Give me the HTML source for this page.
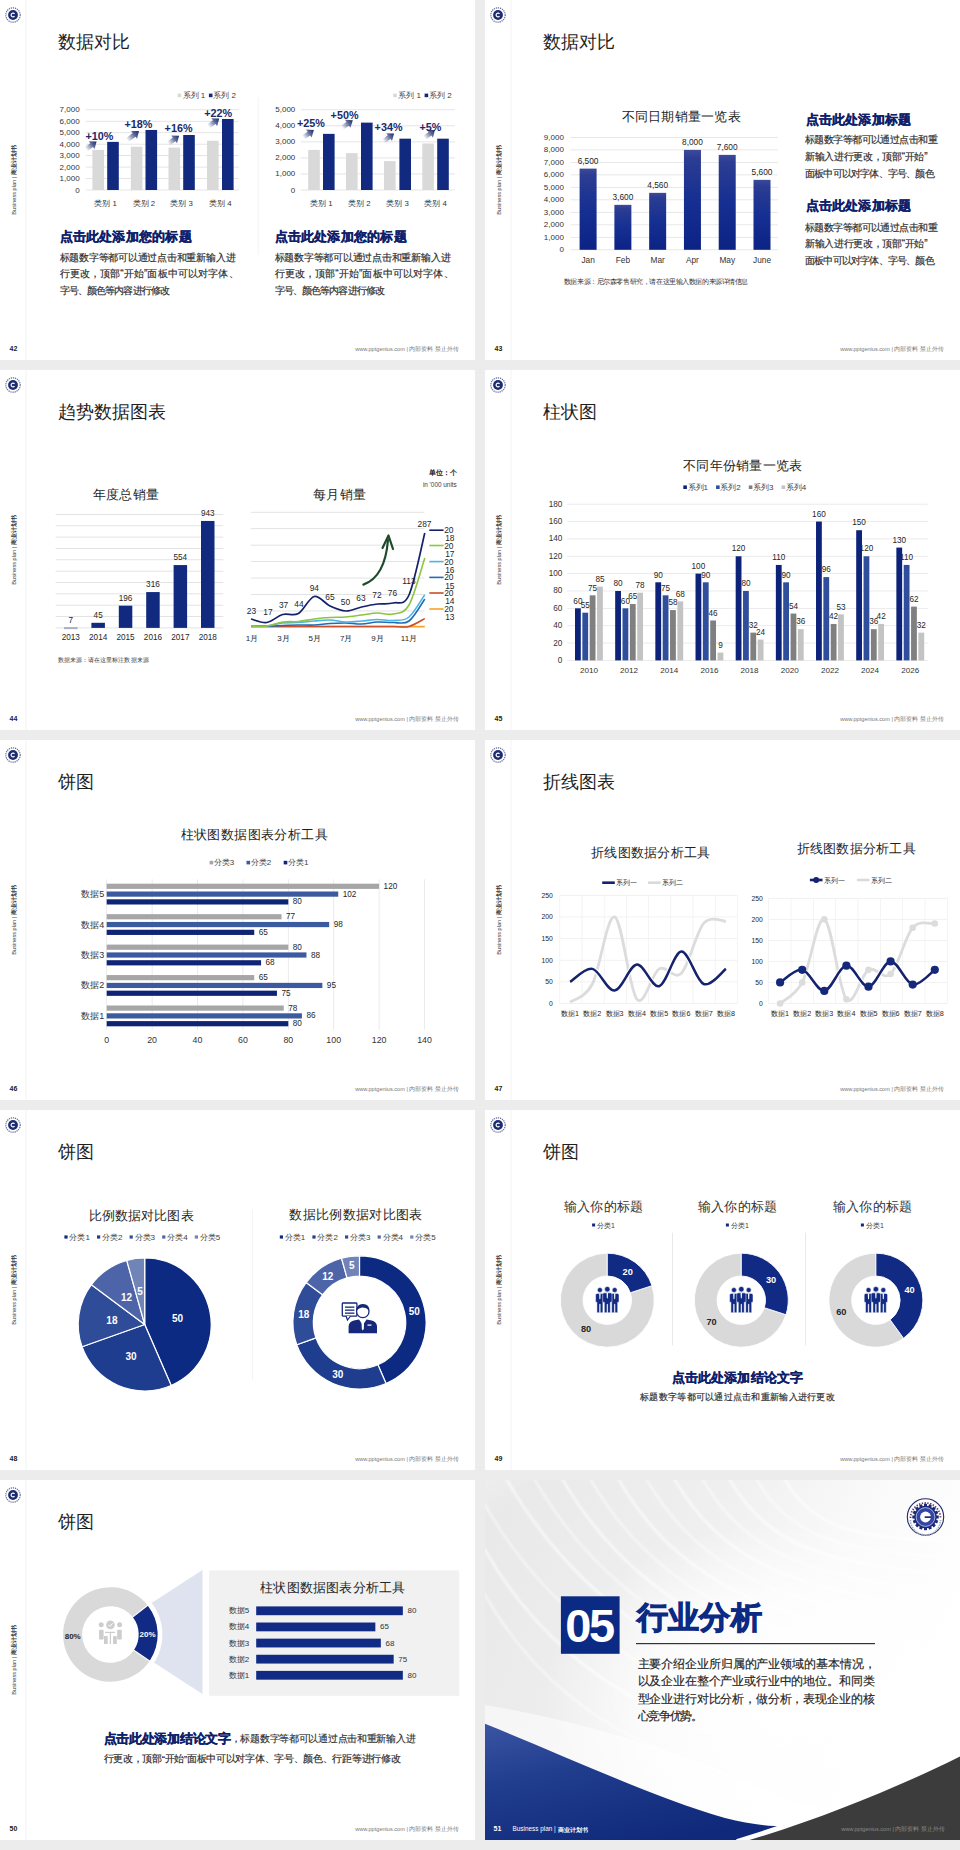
<!DOCTYPE html>
<html><head><meta charset="utf-8"><style>
html,body{margin:0;padding:0;}
body{width:960px;height:1850px;background:#ececec;position:relative;overflow:hidden;font-family:'Liberation Sans', sans-serif;}
.sl{position:absolute;width:475px;height:360px;overflow:hidden;}
svg{display:block;font-family:'Liberation Sans', sans-serif;}
</style></head><body>
<div class="sl" style="left:0px;top:0px;background:#fff"><svg width="475" height="360" viewBox="0 0 475 360"><rect x="25.5" y="0" width="1" height="360" fill="#f3f3f3"/><circle cx="13" cy="15" r="7.2" fill="#fff" stroke="#6a7098" stroke-width="1.2" stroke-dasharray="1.3 0.8"/><circle cx="13" cy="15" r="4.9" fill="#1c2c72"/><path d="M14.5,13.8 A1.9,1.9 0 1 0 14.5,16.2" fill="none" stroke="#fff" stroke-width="1.2"/><g transform="translate(13.5,180) rotate(-90)"><text x="0" y="0" font-size="5.6" fill="#333" text-anchor="middle" dominant-baseline="central">Business plan | <tspan font-weight="bold">商业计划书</tspan></text></g><text x="13.50" y="348.50" font-size="7" fill="#222" text-anchor="middle" font-weight="bold" dominant-baseline="central" >42</text><text x="459.00" y="349.00" font-size="5.6" fill="#777" text-anchor="end" font-weight="normal" dominant-baseline="central" >www.pptgenius.com | 内部资料 禁止外传</text><text x="57.50" y="41.50" font-size="17.6" fill="#1f1f1f" text-anchor="start" font-weight="normal" dominant-baseline="central" >数据对比</text><defs><linearGradient id="ag1" x1="0" y1="0" x2="1" y2="0"><stop offset="0" stop-color="#1a2a6c" stop-opacity="0"/><stop offset="0.6" stop-color="#1a2a6c" stop-opacity="0.7"/><stop offset="1" stop-color="#1a2a6c" stop-opacity="1"/></linearGradient></defs><rect x="85.8" y="189.60" width="153.2" height="0.8" fill="#dedede"/><text x="79.60" y="190.00" font-size="8" fill="#333333" text-anchor="end" font-weight="normal" dominant-baseline="central" >0</text><rect x="85.8" y="178.14" width="153.2" height="0.8" fill="#dedede"/><text x="79.60" y="178.54" font-size="8" fill="#333333" text-anchor="end" font-weight="normal" dominant-baseline="central" >1,000</text><rect x="85.8" y="166.69" width="153.2" height="0.8" fill="#dedede"/><text x="79.60" y="167.09" font-size="8" fill="#333333" text-anchor="end" font-weight="normal" dominant-baseline="central" >2,000</text><rect x="85.8" y="155.23" width="153.2" height="0.8" fill="#dedede"/><text x="79.60" y="155.63" font-size="8" fill="#333333" text-anchor="end" font-weight="normal" dominant-baseline="central" >3,000</text><rect x="85.8" y="143.77" width="153.2" height="0.8" fill="#dedede"/><text x="79.60" y="144.17" font-size="8" fill="#333333" text-anchor="end" font-weight="normal" dominant-baseline="central" >4,000</text><rect x="85.8" y="132.31" width="153.2" height="0.8" fill="#dedede"/><text x="79.60" y="132.71" font-size="8" fill="#333333" text-anchor="end" font-weight="normal" dominant-baseline="central" >5,000</text><rect x="85.8" y="120.86" width="153.2" height="0.8" fill="#dedede"/><text x="79.60" y="121.26" font-size="8" fill="#333333" text-anchor="end" font-weight="normal" dominant-baseline="central" >6,000</text><rect x="85.8" y="109.40" width="153.2" height="0.8" fill="#dedede"/><text x="79.60" y="109.80" font-size="8" fill="#333333" text-anchor="end" font-weight="normal" dominant-baseline="central" >7,000</text><rect x="92.40" y="149.90" width="11.6" height="40.10" fill="#d9d9d9"/><rect x="107.20" y="141.88" width="11.6" height="48.12" fill="#112a80"/><text x="105.60" y="203.00" font-size="7.8" fill="#333333" text-anchor="middle" font-weight="normal" dominant-baseline="central" >类别 1</text><rect x="130.80" y="146.69" width="11.6" height="43.31" fill="#d9d9d9"/><rect x="145.50" y="129.96" width="11.6" height="60.04" fill="#112a80"/><text x="143.95" y="203.00" font-size="7.8" fill="#333333" text-anchor="middle" font-weight="normal" dominant-baseline="central" >类别 2</text><rect x="168.50" y="147.61" width="11.6" height="42.39" fill="#d9d9d9"/><rect x="183.20" y="135.01" width="11.6" height="54.99" fill="#112a80"/><text x="181.65" y="203.00" font-size="7.8" fill="#333333" text-anchor="middle" font-weight="normal" dominant-baseline="central" >类别 3</text><rect x="207.00" y="140.73" width="11.6" height="49.27" fill="#d9d9d9"/><rect x="222.00" y="118.97" width="11.6" height="71.03" fill="#112a80"/><text x="220.30" y="203.00" font-size="7.8" fill="#333333" text-anchor="middle" font-weight="normal" dominant-baseline="central" >类别 4</text><text x="85.50" y="135.50" font-size="10.8" fill="#1a2a6c" text-anchor="start" font-weight="bold" dominant-baseline="central" >+10%</text><text x="124.50" y="123.80" font-size="10.8" fill="#1a2a6c" text-anchor="start" font-weight="bold" dominant-baseline="central" >+18%</text><text x="164.60" y="128.40" font-size="10.8" fill="#1a2a6c" text-anchor="start" font-weight="bold" dominant-baseline="central" >+16%</text><text x="204.20" y="113.00" font-size="10.8" fill="#1a2a6c" text-anchor="start" font-weight="bold" dominant-baseline="central" >+22%</text><g transform="translate(85.90,149.30) rotate(-36.40)"><path d="M0,-2.3 L7.100406497347964,-2.3 L7.100406497347964,-4.9 L13.300406497347964,0 L7.100406497347964,4.9 L7.100406497347964,2.3 L0,2.3 Z" fill="url(#ag1)"/></g><g transform="translate(127.20,140.20) rotate(-37.69)"><path d="M0,-2.3 L8.701438774457873,-2.3 L8.701438774457873,-4.9 L14.901438774457873,0 L8.701438774457873,4.9 L8.701438774457873,2.3 L0,2.3 Z" fill="url(#ag1)"/></g><g transform="translate(168.40,143.60) rotate(-36.40)"><path d="M0,-2.3 L7.100406497347998,-2.3 L7.100406497347998,-4.9 L13.300406497347998,0 L7.100406497347998,4.9 L7.100406497347998,2.3 L0,2.3 Z" fill="url(#ag1)"/></g><g transform="translate(208.50,126.40) rotate(-36.40)"><path d="M0,-2.3 L7.100406497347966,-2.3 L7.100406497347966,-4.9 L13.300406497347966,0 L7.100406497347966,4.9 L7.100406497347966,2.3 L0,2.3 Z" fill="url(#ag1)"/></g><rect x="177.60" y="93.6" width="3.6" height="3.6" fill="#d9d9d9"/><text x="182.60" y="95.60" font-size="8" fill="#3d3d3d" text-anchor="start" font-weight="normal" dominant-baseline="central" >系列 1</text><rect x="208.90" y="93.6" width="3.6" height="3.6" fill="#112a80"/><text x="213.30" y="95.60" font-size="8" fill="#3d3d3d" text-anchor="start" font-weight="normal" dominant-baseline="central" >系列 2</text><rect x="300.8" y="189.60" width="154.0" height="0.8" fill="#dedede"/><text x="295.30" y="190.00" font-size="8" fill="#333333" text-anchor="end" font-weight="normal" dominant-baseline="central" >0</text><rect x="300.8" y="173.56" width="154.0" height="0.8" fill="#dedede"/><text x="295.30" y="173.96" font-size="8" fill="#333333" text-anchor="end" font-weight="normal" dominant-baseline="central" >1,000</text><rect x="300.8" y="157.52" width="154.0" height="0.8" fill="#dedede"/><text x="295.30" y="157.92" font-size="8" fill="#333333" text-anchor="end" font-weight="normal" dominant-baseline="central" >2,000</text><rect x="300.8" y="141.48" width="154.0" height="0.8" fill="#dedede"/><text x="295.30" y="141.88" font-size="8" fill="#333333" text-anchor="end" font-weight="normal" dominant-baseline="central" >3,000</text><rect x="300.8" y="125.44" width="154.0" height="0.8" fill="#dedede"/><text x="295.30" y="125.84" font-size="8" fill="#333333" text-anchor="end" font-weight="normal" dominant-baseline="central" >4,000</text><rect x="300.8" y="109.40" width="154.0" height="0.8" fill="#dedede"/><text x="295.30" y="109.80" font-size="8" fill="#333333" text-anchor="end" font-weight="normal" dominant-baseline="central" >5,000</text><rect x="308.20" y="149.90" width="11.6" height="40.10" fill="#d9d9d9"/><rect x="323.00" y="133.86" width="11.6" height="56.14" fill="#112a80"/><text x="321.40" y="203.00" font-size="7.8" fill="#333333" text-anchor="middle" font-weight="normal" dominant-baseline="central" >类别 1</text><rect x="346.00" y="153.11" width="11.6" height="36.89" fill="#d9d9d9"/><rect x="361.00" y="122.63" width="11.6" height="67.37" fill="#112a80"/><text x="359.30" y="203.00" font-size="7.8" fill="#333333" text-anchor="middle" font-weight="normal" dominant-baseline="central" >类别 2</text><rect x="384.00" y="161.13" width="11.6" height="28.87" fill="#d9d9d9"/><rect x="399.40" y="138.67" width="11.6" height="51.33" fill="#112a80"/><text x="397.50" y="203.00" font-size="7.8" fill="#333333" text-anchor="middle" font-weight="normal" dominant-baseline="central" >类别 3</text><rect x="422.30" y="143.48" width="11.6" height="46.52" fill="#d9d9d9"/><rect x="437.20" y="138.67" width="11.6" height="51.33" fill="#112a80"/><text x="435.55" y="203.00" font-size="7.8" fill="#333333" text-anchor="middle" font-weight="normal" dominant-baseline="central" >类别 4</text><text x="297.00" y="122.80" font-size="10.8" fill="#1a2a6c" text-anchor="start" font-weight="bold" dominant-baseline="central" >+25%</text><text x="330.60" y="115.00" font-size="10.8" fill="#1a2a6c" text-anchor="start" font-weight="bold" dominant-baseline="central" >+50%</text><text x="374.60" y="127.40" font-size="10.8" fill="#1a2a6c" text-anchor="start" font-weight="bold" dominant-baseline="central" >+34%</text><text x="419.50" y="126.50" font-size="10.8" fill="#1a2a6c" text-anchor="start" font-weight="bold" dominant-baseline="central" >+5%</text><g transform="translate(303.20,137.40) rotate(-34.48)"><path d="M0,-2.3 L6.810412149464349,-2.3 L6.810412149464349,-4.9 L13.010412149464349,0 L6.810412149464349,4.9 L6.810412149464349,2.3 L0,2.3 Z" fill="url(#ag1)"/></g><g transform="translate(342.10,127.60) rotate(-34.09)"><path d="M0,-2.3 L6.754078801814916,-2.3 L6.754078801814916,-4.9 L12.954078801814916,0 L6.754078801814916,4.9 L6.754078801814916,2.3 L0,2.3 Z" fill="url(#ag1)"/></g><g transform="translate(383.40,141.30) rotate(-36.40)"><path d="M0,-2.3 L7.100406497347998,-2.3 L7.100406497347998,-4.9 L13.300406497347998,0 L7.100406497347998,4.9 L7.100406497347998,2.3 L0,2.3 Z" fill="url(#ag1)"/></g><g transform="translate(424.60,137.90) rotate(-37.54)"><path d="M0,-2.3 L6.7808180021232785,-2.3 L6.7808180021232785,-4.9 L12.980818002123279,0 L6.7808180021232785,4.9 L6.7808180021232785,2.3 L0,2.3 Z" fill="url(#ag1)"/></g><rect x="393.20" y="93.6" width="3.6" height="3.6" fill="#d9d9d9"/><text x="398.20" y="95.60" font-size="8" fill="#3d3d3d" text-anchor="start" font-weight="normal" dominant-baseline="central" >系列 1</text><rect x="424.60" y="93.6" width="3.6" height="3.6" fill="#112a80"/><text x="429.00" y="95.60" font-size="8" fill="#3d3d3d" text-anchor="start" font-weight="normal" dominant-baseline="central" >系列 2</text><rect x="257.8" y="97" width="0.8" height="158" fill="#f0f0f0"/><text x="59.50" y="236.60" font-size="13" fill="#101f6a" text-anchor="start" font-weight="bold" dominant-baseline="central" stroke="#101f6a" stroke-width="0.3" textLength="132.00" lengthAdjust="spacing">点击此处添加您的标题</text><text x="59.50" y="257.60" font-size="10" fill="#2e2e2e" text-anchor="start" font-weight="normal" dominant-baseline="central" stroke="#2e2e2e" stroke-width="0.18" textLength="176.00" lengthAdjust="spacing">标题数字等都可以通过点击和重新输入进</text><text x="59.50" y="273.80" font-size="10" fill="#2e2e2e" text-anchor="start" font-weight="normal" dominant-baseline="central" stroke="#2e2e2e" stroke-width="0.18" textLength="179.00" lengthAdjust="spacing">行更改，顶部“开始”面板中可以对字体、</text><text x="59.50" y="290.00" font-size="10" fill="#2e2e2e" text-anchor="start" font-weight="normal" dominant-baseline="central" stroke="#2e2e2e" stroke-width="0.18" textLength="110.50" lengthAdjust="spacing">字号、颜色等内容进行修改</text><text x="274.50" y="236.60" font-size="13" fill="#101f6a" text-anchor="start" font-weight="bold" dominant-baseline="central" stroke="#101f6a" stroke-width="0.3" textLength="132.00" lengthAdjust="spacing">点击此处添加您的标题</text><text x="274.50" y="257.60" font-size="10" fill="#2e2e2e" text-anchor="start" font-weight="normal" dominant-baseline="central" stroke="#2e2e2e" stroke-width="0.18" textLength="176.00" lengthAdjust="spacing">标题数字等都可以通过点击和重新输入进</text><text x="274.50" y="273.80" font-size="10" fill="#2e2e2e" text-anchor="start" font-weight="normal" dominant-baseline="central" stroke="#2e2e2e" stroke-width="0.18" textLength="179.00" lengthAdjust="spacing">行更改，顶部“开始”面板中可以对字体、</text><text x="274.50" y="290.00" font-size="10" fill="#2e2e2e" text-anchor="start" font-weight="normal" dominant-baseline="central" stroke="#2e2e2e" stroke-width="0.18" textLength="110.50" lengthAdjust="spacing">字号、颜色等内容进行修改</text></svg></div><div class="sl" style="left:485px;top:0px;background:#fff"><svg width="475" height="360" viewBox="0 0 475 360"><rect x="25.5" y="0" width="1" height="360" fill="#f3f3f3"/><circle cx="13" cy="15" r="7.2" fill="#fff" stroke="#6a7098" stroke-width="1.2" stroke-dasharray="1.3 0.8"/><circle cx="13" cy="15" r="4.9" fill="#1c2c72"/><path d="M14.5,13.8 A1.9,1.9 0 1 0 14.5,16.2" fill="none" stroke="#fff" stroke-width="1.2"/><g transform="translate(13.5,180) rotate(-90)"><text x="0" y="0" font-size="5.6" fill="#333" text-anchor="middle" dominant-baseline="central">Business plan | <tspan font-weight="bold">商业计划书</tspan></text></g><text x="13.50" y="348.50" font-size="7" fill="#222" text-anchor="middle" font-weight="bold" dominant-baseline="central" >43</text><text x="459.00" y="349.00" font-size="5.6" fill="#777" text-anchor="end" font-weight="normal" dominant-baseline="central" >www.pptgenius.com | 内部资料 禁止外传</text><text x="57.50" y="41.50" font-size="17.6" fill="#1f1f1f" text-anchor="start" font-weight="normal" dominant-baseline="central" >数据对比</text><defs><linearGradient id="bg2" x1="0" y1="0" x2="0" y2="1"><stop offset="0" stop-color="#3d4a9a"/><stop offset="0.08" stop-color="#2c3d92"/><stop offset="0.5" stop-color="#162f92"/><stop offset="1" stop-color="#0c2384"/></linearGradient></defs><text x="196.00" y="116.30" font-size="13" fill="#1f1f1f" text-anchor="middle" font-weight="normal" dominant-baseline="central"  textLength="119.00" lengthAdjust="spacing">不同日期销量一览表</text><rect x="85.6" y="249.40" width="207.20000000000002" height="0.8" fill="#e2e2e2"/><text x="78.90" y="249.80" font-size="8" fill="#333333" text-anchor="end" font-weight="normal" dominant-baseline="central" >0</text><rect x="85.6" y="236.91" width="207.20000000000002" height="0.8" fill="#e2e2e2"/><text x="78.90" y="237.31" font-size="8" fill="#333333" text-anchor="end" font-weight="normal" dominant-baseline="central" >1,000</text><rect x="85.6" y="224.42" width="207.20000000000002" height="0.8" fill="#e2e2e2"/><text x="78.90" y="224.82" font-size="8" fill="#333333" text-anchor="end" font-weight="normal" dominant-baseline="central" >2,000</text><rect x="85.6" y="211.93" width="207.20000000000002" height="0.8" fill="#e2e2e2"/><text x="78.90" y="212.33" font-size="8" fill="#333333" text-anchor="end" font-weight="normal" dominant-baseline="central" >3,000</text><rect x="85.6" y="199.44" width="207.20000000000002" height="0.8" fill="#e2e2e2"/><text x="78.90" y="199.84" font-size="8" fill="#333333" text-anchor="end" font-weight="normal" dominant-baseline="central" >4,000</text><rect x="85.6" y="186.96" width="207.20000000000002" height="0.8" fill="#e2e2e2"/><text x="78.90" y="187.36" font-size="8" fill="#333333" text-anchor="end" font-weight="normal" dominant-baseline="central" >5,000</text><rect x="85.6" y="174.47" width="207.20000000000002" height="0.8" fill="#e2e2e2"/><text x="78.90" y="174.87" font-size="8" fill="#333333" text-anchor="end" font-weight="normal" dominant-baseline="central" >6,000</text><rect x="85.6" y="161.98" width="207.20000000000002" height="0.8" fill="#e2e2e2"/><text x="78.90" y="162.38" font-size="8" fill="#333333" text-anchor="end" font-weight="normal" dominant-baseline="central" >7,000</text><rect x="85.6" y="149.49" width="207.20000000000002" height="0.8" fill="#e2e2e2"/><text x="78.90" y="149.89" font-size="8" fill="#333333" text-anchor="end" font-weight="normal" dominant-baseline="central" >8,000</text><rect x="85.6" y="137.00" width="207.20000000000002" height="0.8" fill="#e2e2e2"/><text x="78.90" y="137.40" font-size="8" fill="#333333" text-anchor="end" font-weight="normal" dominant-baseline="central" >9,000</text><rect x="94.60" y="168.62" width="17" height="81.18" fill="url(#bg2)"/><text x="103.10" y="161.22" font-size="8.3" fill="#1e1e1e" text-anchor="middle" font-weight="normal" dominant-baseline="central" >6,500</text><text x="103.10" y="260.30" font-size="8.3" fill="#333333" text-anchor="middle" font-weight="normal" dominant-baseline="central" >Jan</text><rect x="129.38" y="204.84" width="17" height="44.96" fill="url(#bg2)"/><text x="137.88" y="197.44" font-size="8.3" fill="#1e1e1e" text-anchor="middle" font-weight="normal" dominant-baseline="central" >3,600</text><text x="137.88" y="260.30" font-size="8.3" fill="#333333" text-anchor="middle" font-weight="normal" dominant-baseline="central" >Feb</text><rect x="164.16" y="192.85" width="17" height="56.95" fill="url(#bg2)"/><text x="172.66" y="185.45" font-size="8.3" fill="#1e1e1e" text-anchor="middle" font-weight="normal" dominant-baseline="central" >4,560</text><text x="172.66" y="260.30" font-size="8.3" fill="#333333" text-anchor="middle" font-weight="normal" dominant-baseline="central" >Mar</text><rect x="198.94" y="149.89" width="17" height="99.91" fill="url(#bg2)"/><text x="207.44" y="142.49" font-size="8.3" fill="#1e1e1e" text-anchor="middle" font-weight="normal" dominant-baseline="central" >8,000</text><text x="207.44" y="260.30" font-size="8.3" fill="#333333" text-anchor="middle" font-weight="normal" dominant-baseline="central" >Apr</text><rect x="233.72" y="154.88" width="17" height="94.92" fill="url(#bg2)"/><text x="242.22" y="147.48" font-size="8.3" fill="#1e1e1e" text-anchor="middle" font-weight="normal" dominant-baseline="central" >7,600</text><text x="242.22" y="260.30" font-size="8.3" fill="#333333" text-anchor="middle" font-weight="normal" dominant-baseline="central" >May</text><rect x="268.50" y="179.86" width="17" height="69.94" fill="url(#bg2)"/><text x="277.00" y="172.46" font-size="8.3" fill="#1e1e1e" text-anchor="middle" font-weight="normal" dominant-baseline="central" >5,600</text><text x="277.00" y="260.30" font-size="8.3" fill="#333333" text-anchor="middle" font-weight="normal" dominant-baseline="central" >June</text><text x="78.90" y="281.00" font-size="7" fill="#333" text-anchor="start" font-weight="normal" dominant-baseline="central"  textLength="184.50" lengthAdjust="spacing">数据来源：尼尔森零售研究，请在这里输入数据的来源详情信息</text><text x="320.60" y="119.00" font-size="13" fill="#101f6a" text-anchor="start" font-weight="bold" dominant-baseline="central" stroke="#101f6a" stroke-width="0.3" textLength="105.50" lengthAdjust="spacing">点击此处添加标题</text><text x="320.00" y="139.50" font-size="10" fill="#2e2e2e" text-anchor="start" font-weight="normal" dominant-baseline="central" stroke="#2e2e2e" stroke-width="0.18" textLength="132.50" lengthAdjust="spacing">标题数字等都可以通过点击和重</text><text x="320.00" y="156.35" font-size="10" fill="#2e2e2e" text-anchor="start" font-weight="normal" dominant-baseline="central" stroke="#2e2e2e" stroke-width="0.18" textLength="122.50" lengthAdjust="spacing">新输入进行更改，顶部“开始”</text><text x="320.00" y="173.20" font-size="10" fill="#2e2e2e" text-anchor="start" font-weight="normal" dominant-baseline="central" stroke="#2e2e2e" stroke-width="0.18" textLength="129.50" lengthAdjust="spacing">面板中可以对字体、字号、颜色</text><text x="320.60" y="205.10" font-size="13" fill="#101f6a" text-anchor="start" font-weight="bold" dominant-baseline="central" stroke="#101f6a" stroke-width="0.3" textLength="105.50" lengthAdjust="spacing">点击此处添加标题</text><text x="320.00" y="227.10" font-size="10" fill="#2e2e2e" text-anchor="start" font-weight="normal" dominant-baseline="central" stroke="#2e2e2e" stroke-width="0.18" textLength="132.50" lengthAdjust="spacing">标题数字等都可以通过点击和重</text><text x="320.00" y="243.95" font-size="10" fill="#2e2e2e" text-anchor="start" font-weight="normal" dominant-baseline="central" stroke="#2e2e2e" stroke-width="0.18" textLength="122.50" lengthAdjust="spacing">新输入进行更改，顶部“开始”</text><text x="320.00" y="260.80" font-size="10" fill="#2e2e2e" text-anchor="start" font-weight="normal" dominant-baseline="central" stroke="#2e2e2e" stroke-width="0.18" textLength="129.50" lengthAdjust="spacing">面板中可以对字体、字号、颜色</text></svg></div><div class="sl" style="left:0px;top:370px;background:#fff"><svg width="475" height="360" viewBox="0 0 475 360"><rect x="25.5" y="0" width="1" height="360" fill="#f3f3f3"/><circle cx="13" cy="15" r="7.2" fill="#fff" stroke="#6a7098" stroke-width="1.2" stroke-dasharray="1.3 0.8"/><circle cx="13" cy="15" r="4.9" fill="#1c2c72"/><path d="M14.5,13.8 A1.9,1.9 0 1 0 14.5,16.2" fill="none" stroke="#fff" stroke-width="1.2"/><g transform="translate(13.5,180) rotate(-90)"><text x="0" y="0" font-size="5.6" fill="#333" text-anchor="middle" dominant-baseline="central">Business plan | <tspan font-weight="bold">商业计划书</tspan></text></g><text x="13.50" y="348.50" font-size="7" fill="#222" text-anchor="middle" font-weight="bold" dominant-baseline="central" >44</text><text x="459.00" y="349.00" font-size="5.6" fill="#777" text-anchor="end" font-weight="normal" dominant-baseline="central" >www.pptgenius.com | 内部资料 禁止外传</text><text x="57.50" y="41.50" font-size="17.6" fill="#1f1f1f" text-anchor="start" font-weight="normal" dominant-baseline="central" >趋势数据图表</text><text x="125.90" y="124.60" font-size="13" fill="#1f1f1f" text-anchor="middle" font-weight="normal" dominant-baseline="central"  textLength="66.00" lengthAdjust="spacing">年度总销量</text><rect x="55.6" y="257.50" width="167.7" height="0.8" fill="#dcdcdc"/><rect x="55.6" y="246.15" width="167.7" height="0.8" fill="#dcdcdc"/><rect x="55.6" y="234.80" width="167.7" height="0.8" fill="#dcdcdc"/><rect x="55.6" y="223.45" width="167.7" height="0.8" fill="#dcdcdc"/><rect x="55.6" y="212.10" width="167.7" height="0.8" fill="#dcdcdc"/><rect x="55.6" y="200.75" width="167.7" height="0.8" fill="#dcdcdc"/><rect x="55.6" y="189.40" width="167.7" height="0.8" fill="#dcdcdc"/><rect x="55.6" y="178.05" width="167.7" height="0.8" fill="#dcdcdc"/><rect x="55.6" y="166.70" width="167.7" height="0.8" fill="#dcdcdc"/><rect x="55.6" y="155.35" width="167.7" height="0.8" fill="#dcdcdc"/><rect x="55.6" y="144.00" width="167.7" height="0.8" fill="#dcdcdc"/><rect x="64.00" y="257.11" width="13.5" height="2.00" fill="#a7b0c8"/><text x="70.75" y="250.00" font-size="8.2" fill="#262626" text-anchor="middle" font-weight="normal" dominant-baseline="central" >7</text><text x="70.75" y="267.70" font-size="8.2" fill="#262626" text-anchor="middle" font-weight="normal" dominant-baseline="central" >2013</text><rect x="91.40" y="252.80" width="13.5" height="5.10" fill="#112a80"/><text x="98.15" y="245.30" font-size="8.2" fill="#262626" text-anchor="middle" font-weight="normal" dominant-baseline="central" >45</text><text x="98.15" y="267.70" font-size="8.2" fill="#262626" text-anchor="middle" font-weight="normal" dominant-baseline="central" >2014</text><rect x="118.80" y="235.67" width="13.5" height="22.23" fill="#112a80"/><text x="125.55" y="228.17" font-size="8.2" fill="#262626" text-anchor="middle" font-weight="normal" dominant-baseline="central" >196</text><text x="125.55" y="267.70" font-size="8.2" fill="#262626" text-anchor="middle" font-weight="normal" dominant-baseline="central" >2015</text><rect x="146.20" y="222.07" width="13.5" height="35.83" fill="#112a80"/><text x="152.95" y="214.57" font-size="8.2" fill="#262626" text-anchor="middle" font-weight="normal" dominant-baseline="central" >316</text><text x="152.95" y="267.70" font-size="8.2" fill="#262626" text-anchor="middle" font-weight="normal" dominant-baseline="central" >2016</text><rect x="173.60" y="195.08" width="13.5" height="62.82" fill="#112a80"/><text x="180.35" y="187.58" font-size="8.2" fill="#262626" text-anchor="middle" font-weight="normal" dominant-baseline="central" >554</text><text x="180.35" y="267.70" font-size="8.2" fill="#262626" text-anchor="middle" font-weight="normal" dominant-baseline="central" >2017</text><rect x="201.00" y="150.96" width="13.5" height="106.94" fill="#112a80"/><text x="207.75" y="143.46" font-size="8.2" fill="#262626" text-anchor="middle" font-weight="normal" dominant-baseline="central" >943</text><text x="207.75" y="267.70" font-size="8.2" fill="#262626" text-anchor="middle" font-weight="normal" dominant-baseline="central" >2018</text><text x="57.70" y="289.60" font-size="6" fill="#333" text-anchor="start" font-weight="normal" dominant-baseline="central"  textLength="91.00" lengthAdjust="spacing">数据来源：请在这里标注数据来源</text><text x="339.40" y="124.70" font-size="13" fill="#1f1f1f" text-anchor="middle" font-weight="normal" dominant-baseline="central"  textLength="53.00" lengthAdjust="spacing">每月销量</text><text x="456.80" y="102.00" font-size="6.8" fill="#262626" text-anchor="end" font-weight="bold" dominant-baseline="central" >单位：个</text><text x="456.80" y="114.70" font-size="6.4" fill="#3d3d3d" text-anchor="end" font-weight="normal" dominant-baseline="central" >in '000 units</text><rect x="250.8" y="257.00" width="173.7" height="0.8" fill="#dcdcdc"/><rect x="250.8" y="240.55" width="173.7" height="0.8" fill="#dcdcdc"/><rect x="250.8" y="224.10" width="173.7" height="0.8" fill="#dcdcdc"/><rect x="250.8" y="207.65" width="173.7" height="0.8" fill="#dcdcdc"/><rect x="250.8" y="191.20" width="173.7" height="0.8" fill="#dcdcdc"/><rect x="250.8" y="174.75" width="173.7" height="0.8" fill="#dcdcdc"/><rect x="250.8" y="158.30" width="173.7" height="0.8" fill="#dcdcdc"/><rect x="250.8" y="141.85" width="173.7" height="0.8" fill="#dcdcdc"/><text x="251.50" y="241.00" font-size="8.4" fill="#262626" text-anchor="middle" font-weight="normal" dominant-baseline="central" >23</text><text x="268.00" y="242.10" font-size="8.4" fill="#262626" text-anchor="middle" font-weight="normal" dominant-baseline="central" >17</text><text x="283.60" y="235.40" font-size="8.4" fill="#262626" text-anchor="middle" font-weight="normal" dominant-baseline="central" >37</text><text x="299.00" y="233.70" font-size="8.4" fill="#262626" text-anchor="middle" font-weight="normal" dominant-baseline="central" >44</text><text x="314.30" y="217.50" font-size="8.4" fill="#262626" text-anchor="middle" font-weight="normal" dominant-baseline="central" >94</text><text x="330.00" y="226.60" font-size="8.4" fill="#262626" text-anchor="middle" font-weight="normal" dominant-baseline="central" >65</text><text x="345.40" y="231.80" font-size="8.4" fill="#262626" text-anchor="middle" font-weight="normal" dominant-baseline="central" >50</text><text x="361.00" y="227.80" font-size="8.4" fill="#262626" text-anchor="middle" font-weight="normal" dominant-baseline="central" >63</text><text x="377.00" y="225.40" font-size="8.4" fill="#262626" text-anchor="middle" font-weight="normal" dominant-baseline="central" >72</text><text x="392.50" y="223.00" font-size="8.4" fill="#262626" text-anchor="middle" font-weight="normal" dominant-baseline="central" >76</text><text x="408.90" y="211.00" font-size="8.4" fill="#262626" text-anchor="middle" font-weight="normal" dominant-baseline="central" >113</text><text x="424.50" y="154.20" font-size="8.4" fill="#262626" text-anchor="middle" font-weight="normal" dominant-baseline="central" >287</text><path d="M251.00,256.50 C253.63,256.50 261.53,256.50 266.80,256.50 C272.07,256.50 277.33,256.50 282.60,256.50 C287.87,256.50 293.13,256.50 298.40,256.50 C303.67,256.50 308.93,256.50 314.20,256.50 C319.47,256.50 324.73,256.50 330.00,256.50 C335.27,256.50 340.53,256.50 345.80,256.50 C351.07,256.50 356.33,256.50 361.60,256.50 C366.87,256.50 372.13,256.50 377.40,256.50 C382.67,256.50 387.93,256.50 393.20,256.50 C398.47,256.50 403.73,256.50 409.00,256.50 C414.27,256.50 422.17,256.50 424.80,256.50" fill="none" stroke="#f5a623" stroke-width="1.6"/><path d="M251.00,256.50 C253.63,256.50 261.53,256.50 266.80,256.50 C272.07,256.50 277.33,256.50 282.60,256.50 C287.87,256.50 293.13,256.50 298.40,256.50 C303.67,256.50 308.93,256.50 314.20,256.50 C319.47,256.50 324.73,256.50 330.00,256.50 C335.27,256.50 340.53,256.50 345.80,256.50 C351.07,256.50 356.33,256.50 361.60,256.50 C366.87,256.50 372.13,256.50 377.40,256.50 C382.67,256.50 387.93,256.50 393.20,256.50 C398.47,256.50 403.73,257.82 409.00,256.50 C414.27,255.18 422.17,249.92 424.80,248.60" fill="none" stroke="#c8502a" stroke-width="1.6"/><path d="M251.00,256.00 C253.63,256.00 261.53,256.08 266.80,256.00 C272.07,255.92 277.33,255.67 282.60,255.50 C287.87,255.33 293.13,255.08 298.40,255.00 C303.67,254.92 308.93,255.25 314.20,255.00 C319.47,254.75 324.73,253.83 330.00,253.50 C335.27,253.17 340.53,252.92 345.80,253.00 C351.07,253.08 356.33,254.17 361.60,254.00 C366.87,253.83 372.13,252.25 377.40,252.00 C382.67,251.75 387.93,252.67 393.20,252.50 C398.47,252.33 403.73,254.92 409.00,251.00 C414.27,247.08 422.17,232.67 424.80,229.00" fill="none" stroke="#1f6db3" stroke-width="1.6"/><path d="M251.00,256.00 C253.63,256.00 261.53,256.50 266.80,256.00 C272.07,255.50 277.33,253.58 282.60,253.00 C287.87,252.42 293.13,252.83 298.40,252.50 C303.67,252.17 308.93,251.42 314.20,251.00 C319.47,250.58 324.73,249.83 330.00,250.00 C335.27,250.17 340.53,251.83 345.80,252.00 C351.07,252.17 356.33,251.42 361.60,251.00 C366.87,250.58 372.13,249.58 377.40,249.50 C382.67,249.42 387.93,250.92 393.20,250.50 C398.47,250.08 403.73,251.32 409.00,247.00 C414.27,242.68 422.17,228.33 424.80,224.60" fill="none" stroke="#4db3e6" stroke-width="1.6"/><path d="M251.00,256.00 C253.63,256.00 261.53,256.67 266.80,256.00 C272.07,255.33 277.33,252.75 282.60,252.00 C287.87,251.25 293.13,252.00 298.40,251.50 C303.67,251.00 308.93,249.67 314.20,249.00 C319.47,248.33 324.73,247.83 330.00,247.50 C335.27,247.17 340.53,247.42 345.80,247.00 C351.07,246.58 356.33,245.67 361.60,245.00 C366.87,244.33 372.13,243.17 377.40,243.00 C382.67,242.83 387.93,245.33 393.20,244.00 C398.47,242.67 403.73,244.33 409.00,235.00 C414.27,225.67 422.17,195.83 424.80,188.00" fill="none" stroke="#8cc63f" stroke-width="1.6"/><path d="M251.00,249.00 C253.63,249.58 261.53,253.25 266.80,252.50 C272.07,251.75 277.33,246.00 282.60,244.50 C287.87,243.00 293.13,246.50 298.40,243.50 C303.67,240.50 308.93,227.75 314.20,226.50 C319.47,225.25 324.73,233.58 330.00,236.00 C335.27,238.42 340.53,240.83 345.80,241.00 C351.07,241.17 356.33,238.17 361.60,237.00 C366.87,235.83 372.13,234.67 377.40,234.00 C382.67,233.33 387.93,234.50 393.20,233.00 C398.47,231.50 403.73,236.67 409.00,225.00 C414.27,213.33 422.17,173.33 424.80,163.00" fill="none" stroke="#15226b" stroke-width="1.7"/><text x="252.00" y="268.50" font-size="8" fill="#262626" text-anchor="middle" font-weight="normal" dominant-baseline="central" >1月</text><text x="283.40" y="268.50" font-size="8" fill="#262626" text-anchor="middle" font-weight="normal" dominant-baseline="central" >3月</text><text x="314.80" y="268.50" font-size="8" fill="#262626" text-anchor="middle" font-weight="normal" dominant-baseline="central" >5月</text><text x="346.20" y="268.50" font-size="8" fill="#262626" text-anchor="middle" font-weight="normal" dominant-baseline="central" >7月</text><text x="377.60" y="268.50" font-size="8" fill="#262626" text-anchor="middle" font-weight="normal" dominant-baseline="central" >9月</text><text x="409.00" y="268.50" font-size="8" fill="#262626" text-anchor="middle" font-weight="normal" dominant-baseline="central" >11月</text><rect x="429.3" y="159.40" width="14.3" height="1.6" fill="#15226b"/><text x="444.20" y="160.20" font-size="8.4" fill="#262626" text-anchor="start" font-weight="normal" dominant-baseline="central" >20</text><text x="445.20" y="168.40" font-size="8.4" fill="#262626" text-anchor="start" font-weight="normal" dominant-baseline="central" >18</text><rect x="429.3" y="174.70" width="14.3" height="1.6" fill="#8cc63f"/><text x="444.20" y="175.50" font-size="8.4" fill="#262626" text-anchor="start" font-weight="normal" dominant-baseline="central" >20</text><text x="445.20" y="183.70" font-size="8.4" fill="#262626" text-anchor="start" font-weight="normal" dominant-baseline="central" >17</text><rect x="429.3" y="190.80" width="14.3" height="1.6" fill="#4db3e6"/><text x="444.20" y="191.60" font-size="8.4" fill="#262626" text-anchor="start" font-weight="normal" dominant-baseline="central" >20</text><text x="445.20" y="199.80" font-size="8.4" fill="#262626" text-anchor="start" font-weight="normal" dominant-baseline="central" >16</text><rect x="429.3" y="206.60" width="14.3" height="1.6" fill="#1f6db3"/><text x="444.20" y="207.40" font-size="8.4" fill="#262626" text-anchor="start" font-weight="normal" dominant-baseline="central" >20</text><text x="445.20" y="215.60" font-size="8.4" fill="#262626" text-anchor="start" font-weight="normal" dominant-baseline="central" >15</text><rect x="429.3" y="222.20" width="14.3" height="1.6" fill="#c8502a"/><text x="444.20" y="223.00" font-size="8.4" fill="#262626" text-anchor="start" font-weight="normal" dominant-baseline="central" >20</text><text x="445.20" y="231.20" font-size="8.4" fill="#262626" text-anchor="start" font-weight="normal" dominant-baseline="central" >14</text><rect x="429.3" y="238.20" width="14.3" height="1.6" fill="#f5a623"/><text x="444.20" y="239.00" font-size="8.4" fill="#262626" text-anchor="start" font-weight="normal" dominant-baseline="central" >20</text><text x="445.20" y="247.20" font-size="8.4" fill="#262626" text-anchor="start" font-weight="normal" dominant-baseline="central" >13</text><path d="M363.4,214.6 Q385,207 388,170" fill="none" stroke="#1d4a2a" stroke-width="2.2" stroke-linecap="round"/><path d="M382.5,178 L388.5,165.5 L393,179" fill="none" stroke="#1d4a2a" stroke-width="2.2" stroke-linecap="round" stroke-linejoin="round"/></svg></div><div class="sl" style="left:485px;top:370px;background:#fff"><svg width="475" height="360" viewBox="0 0 475 360"><rect x="25.5" y="0" width="1" height="360" fill="#f3f3f3"/><circle cx="13" cy="15" r="7.2" fill="#fff" stroke="#6a7098" stroke-width="1.2" stroke-dasharray="1.3 0.8"/><circle cx="13" cy="15" r="4.9" fill="#1c2c72"/><path d="M14.5,13.8 A1.9,1.9 0 1 0 14.5,16.2" fill="none" stroke="#fff" stroke-width="1.2"/><g transform="translate(13.5,180) rotate(-90)"><text x="0" y="0" font-size="5.6" fill="#333" text-anchor="middle" dominant-baseline="central">Business plan | <tspan font-weight="bold">商业计划书</tspan></text></g><text x="13.50" y="348.50" font-size="7" fill="#222" text-anchor="middle" font-weight="bold" dominant-baseline="central" >45</text><text x="459.00" y="349.00" font-size="5.6" fill="#777" text-anchor="end" font-weight="normal" dominant-baseline="central" >www.pptgenius.com | 内部资料 禁止外传</text><text x="57.50" y="41.50" font-size="17.6" fill="#1f1f1f" text-anchor="start" font-weight="normal" dominant-baseline="central" >柱状图</text><text x="257.60" y="95.20" font-size="13" fill="#1f1f1f" text-anchor="middle" font-weight="normal" dominant-baseline="central"  textLength="119.00" lengthAdjust="spacing">不同年份销量一览表</text><rect x="198.30" y="115.4" width="3.6" height="3.6" fill="#0d237a"/><text x="202.50" y="117.20" font-size="8" fill="#3d3d3d" text-anchor="start" font-weight="normal" dominant-baseline="central" >系列1</text><rect x="231.05" y="115.4" width="3.6" height="3.6" fill="#2f4f9c"/><text x="235.25" y="117.20" font-size="8" fill="#3d3d3d" text-anchor="start" font-weight="normal" dominant-baseline="central" >系列2</text><rect x="263.80" y="115.4" width="3.6" height="3.6" fill="#808080"/><text x="268.00" y="117.20" font-size="8" fill="#3d3d3d" text-anchor="start" font-weight="normal" dominant-baseline="central" >系列3</text><rect x="296.55" y="115.4" width="3.6" height="3.6" fill="#c3c3c3"/><text x="300.75" y="117.20" font-size="8" fill="#3d3d3d" text-anchor="start" font-weight="normal" dominant-baseline="central" >系列4</text><rect x="82.1" y="290.00" width="360.6" height="0.8" fill="#e6e6e6"/><text x="77.30" y="290.40" font-size="8.2" fill="#333333" text-anchor="end" font-weight="normal" dominant-baseline="central" >0</text><rect x="82.1" y="272.64" width="360.6" height="0.8" fill="#e6e6e6"/><text x="77.30" y="273.04" font-size="8.2" fill="#333333" text-anchor="end" font-weight="normal" dominant-baseline="central" >20</text><rect x="82.1" y="255.29" width="360.6" height="0.8" fill="#e6e6e6"/><text x="77.30" y="255.69" font-size="8.2" fill="#333333" text-anchor="end" font-weight="normal" dominant-baseline="central" >40</text><rect x="82.1" y="237.93" width="360.6" height="0.8" fill="#e6e6e6"/><text x="77.30" y="238.33" font-size="8.2" fill="#333333" text-anchor="end" font-weight="normal" dominant-baseline="central" >60</text><rect x="82.1" y="220.58" width="360.6" height="0.8" fill="#e6e6e6"/><text x="77.30" y="220.98" font-size="8.2" fill="#333333" text-anchor="end" font-weight="normal" dominant-baseline="central" >80</text><rect x="82.1" y="203.22" width="360.6" height="0.8" fill="#e6e6e6"/><text x="77.30" y="203.62" font-size="8.2" fill="#333333" text-anchor="end" font-weight="normal" dominant-baseline="central" >100</text><rect x="82.1" y="185.87" width="360.6" height="0.8" fill="#e6e6e6"/><text x="77.30" y="186.27" font-size="8.2" fill="#333333" text-anchor="end" font-weight="normal" dominant-baseline="central" >120</text><rect x="82.1" y="168.51" width="360.6" height="0.8" fill="#e6e6e6"/><text x="77.30" y="168.91" font-size="8.2" fill="#333333" text-anchor="end" font-weight="normal" dominant-baseline="central" >140</text><rect x="82.1" y="151.16" width="360.6" height="0.8" fill="#e6e6e6"/><text x="77.30" y="151.56" font-size="8.2" fill="#333333" text-anchor="end" font-weight="normal" dominant-baseline="central" >160</text><rect x="82.1" y="133.80" width="360.6" height="0.8" fill="#e6e6e6"/><text x="77.30" y="134.20" font-size="8.2" fill="#333333" text-anchor="end" font-weight="normal" dominant-baseline="central" >180</text><text x="92.90" y="231.03" font-size="8.2" fill="#262626" text-anchor="middle" font-weight="normal" dominant-baseline="central" >60</text><text x="100.25" y="235.37" font-size="8.2" fill="#262626" text-anchor="middle" font-weight="normal" dominant-baseline="central" >55</text><text x="107.60" y="218.02" font-size="8.2" fill="#262626" text-anchor="middle" font-weight="normal" dominant-baseline="central" >75</text><text x="114.95" y="209.34" font-size="8.2" fill="#262626" text-anchor="middle" font-weight="normal" dominant-baseline="central" >85</text><text x="103.90" y="300.50" font-size="8.1" fill="#333333" text-anchor="middle" font-weight="normal" dominant-baseline="central" >2010</text><text x="133.07" y="213.68" font-size="8.2" fill="#262626" text-anchor="middle" font-weight="normal" dominant-baseline="central" >80</text><text x="140.42" y="231.03" font-size="8.2" fill="#262626" text-anchor="middle" font-weight="normal" dominant-baseline="central" >60</text><text x="147.77" y="226.69" font-size="8.2" fill="#262626" text-anchor="middle" font-weight="normal" dominant-baseline="central" >65</text><text x="155.12" y="215.41" font-size="8.2" fill="#262626" text-anchor="middle" font-weight="normal" dominant-baseline="central" >78</text><text x="144.07" y="300.50" font-size="8.1" fill="#333333" text-anchor="middle" font-weight="normal" dominant-baseline="central" >2012</text><text x="173.24" y="205.00" font-size="8.2" fill="#262626" text-anchor="middle" font-weight="normal" dominant-baseline="central" >90</text><text x="180.59" y="218.02" font-size="8.2" fill="#262626" text-anchor="middle" font-weight="normal" dominant-baseline="central" >75</text><text x="187.94" y="232.77" font-size="8.2" fill="#262626" text-anchor="middle" font-weight="normal" dominant-baseline="central" >58</text><text x="195.29" y="224.09" font-size="8.2" fill="#262626" text-anchor="middle" font-weight="normal" dominant-baseline="central" >68</text><text x="184.24" y="300.50" font-size="8.1" fill="#333333" text-anchor="middle" font-weight="normal" dominant-baseline="central" >2014</text><text x="213.41" y="196.32" font-size="8.2" fill="#262626" text-anchor="middle" font-weight="normal" dominant-baseline="central" >100</text><text x="220.76" y="205.00" font-size="8.2" fill="#262626" text-anchor="middle" font-weight="normal" dominant-baseline="central" >90</text><text x="228.11" y="243.18" font-size="8.2" fill="#262626" text-anchor="middle" font-weight="normal" dominant-baseline="central" >46</text><text x="235.46" y="275.29" font-size="8.2" fill="#262626" text-anchor="middle" font-weight="normal" dominant-baseline="central" >9</text><text x="224.41" y="300.50" font-size="8.1" fill="#333333" text-anchor="middle" font-weight="normal" dominant-baseline="central" >2016</text><text x="253.58" y="178.97" font-size="8.2" fill="#262626" text-anchor="middle" font-weight="normal" dominant-baseline="central" >120</text><text x="260.93" y="213.68" font-size="8.2" fill="#262626" text-anchor="middle" font-weight="normal" dominant-baseline="central" >80</text><text x="268.28" y="255.33" font-size="8.2" fill="#262626" text-anchor="middle" font-weight="normal" dominant-baseline="central" >32</text><text x="275.63" y="262.27" font-size="8.2" fill="#262626" text-anchor="middle" font-weight="normal" dominant-baseline="central" >24</text><text x="264.58" y="300.50" font-size="8.1" fill="#333333" text-anchor="middle" font-weight="normal" dominant-baseline="central" >2018</text><text x="293.75" y="187.64" font-size="8.2" fill="#262626" text-anchor="middle" font-weight="normal" dominant-baseline="central" >110</text><text x="301.10" y="205.00" font-size="8.2" fill="#262626" text-anchor="middle" font-weight="normal" dominant-baseline="central" >90</text><text x="308.45" y="236.24" font-size="8.2" fill="#262626" text-anchor="middle" font-weight="normal" dominant-baseline="central" >54</text><text x="315.80" y="251.86" font-size="8.2" fill="#262626" text-anchor="middle" font-weight="normal" dominant-baseline="central" >36</text><text x="304.75" y="300.50" font-size="8.1" fill="#333333" text-anchor="middle" font-weight="normal" dominant-baseline="central" >2020</text><text x="333.92" y="144.26" font-size="8.2" fill="#262626" text-anchor="middle" font-weight="normal" dominant-baseline="central" >160</text><text x="341.27" y="199.79" font-size="8.2" fill="#262626" text-anchor="middle" font-weight="normal" dominant-baseline="central" >96</text><text x="348.62" y="246.65" font-size="8.2" fill="#262626" text-anchor="middle" font-weight="normal" dominant-baseline="central" >42</text><text x="355.97" y="237.11" font-size="8.2" fill="#262626" text-anchor="middle" font-weight="normal" dominant-baseline="central" >53</text><text x="344.92" y="300.50" font-size="8.1" fill="#333333" text-anchor="middle" font-weight="normal" dominant-baseline="central" >2022</text><text x="374.09" y="152.93" font-size="8.2" fill="#262626" text-anchor="middle" font-weight="normal" dominant-baseline="central" >150</text><text x="381.44" y="178.97" font-size="8.2" fill="#262626" text-anchor="middle" font-weight="normal" dominant-baseline="central" >120</text><text x="388.79" y="251.86" font-size="8.2" fill="#262626" text-anchor="middle" font-weight="normal" dominant-baseline="central" >36</text><text x="396.14" y="246.65" font-size="8.2" fill="#262626" text-anchor="middle" font-weight="normal" dominant-baseline="central" >42</text><text x="385.09" y="300.50" font-size="8.1" fill="#333333" text-anchor="middle" font-weight="normal" dominant-baseline="central" >2024</text><text x="414.26" y="170.29" font-size="8.2" fill="#262626" text-anchor="middle" font-weight="normal" dominant-baseline="central" >130</text><text x="421.61" y="187.64" font-size="8.2" fill="#262626" text-anchor="middle" font-weight="normal" dominant-baseline="central" >110</text><text x="428.96" y="229.30" font-size="8.2" fill="#262626" text-anchor="middle" font-weight="normal" dominant-baseline="central" >62</text><text x="436.31" y="255.33" font-size="8.2" fill="#262626" text-anchor="middle" font-weight="normal" dominant-baseline="central" >32</text><text x="425.26" y="300.50" font-size="8.1" fill="#333333" text-anchor="middle" font-weight="normal" dominant-baseline="central" >2026</text><rect x="90.00" y="238.33" width="5.8" height="52.07" fill="#0d237a"/><rect x="97.35" y="242.67" width="5.8" height="47.73" fill="#2f4f9c"/><rect x="104.70" y="225.32" width="5.8" height="65.08" fill="#808080"/><rect x="112.05" y="216.64" width="5.8" height="73.76" fill="#c3c3c3"/><rect x="130.17" y="220.98" width="5.8" height="69.42" fill="#0d237a"/><rect x="137.52" y="238.33" width="5.8" height="52.07" fill="#2f4f9c"/><rect x="144.87" y="233.99" width="5.8" height="56.41" fill="#808080"/><rect x="152.22" y="222.71" width="5.8" height="67.69" fill="#c3c3c3"/><rect x="170.34" y="212.30" width="5.8" height="78.10" fill="#0d237a"/><rect x="177.69" y="225.32" width="5.8" height="65.08" fill="#2f4f9c"/><rect x="185.04" y="240.07" width="5.8" height="50.33" fill="#808080"/><rect x="192.39" y="231.39" width="5.8" height="59.01" fill="#c3c3c3"/><rect x="210.51" y="203.62" width="5.8" height="86.78" fill="#0d237a"/><rect x="217.86" y="212.30" width="5.8" height="78.10" fill="#2f4f9c"/><rect x="225.21" y="250.48" width="5.8" height="39.92" fill="#808080"/><rect x="232.56" y="282.59" width="5.8" height="7.81" fill="#c3c3c3"/><rect x="250.68" y="186.27" width="5.8" height="104.13" fill="#0d237a"/><rect x="258.03" y="220.98" width="5.8" height="69.42" fill="#2f4f9c"/><rect x="265.38" y="262.63" width="5.8" height="27.77" fill="#808080"/><rect x="272.73" y="269.57" width="5.8" height="20.83" fill="#c3c3c3"/><rect x="290.85" y="194.94" width="5.8" height="95.46" fill="#0d237a"/><rect x="298.20" y="212.30" width="5.8" height="78.10" fill="#2f4f9c"/><rect x="305.55" y="243.54" width="5.8" height="46.86" fill="#808080"/><rect x="312.90" y="259.16" width="5.8" height="31.24" fill="#c3c3c3"/><rect x="331.02" y="151.56" width="5.8" height="138.84" fill="#0d237a"/><rect x="338.37" y="207.09" width="5.8" height="83.31" fill="#2f4f9c"/><rect x="345.72" y="253.95" width="5.8" height="36.45" fill="#808080"/><rect x="353.07" y="244.41" width="5.8" height="45.99" fill="#c3c3c3"/><rect x="371.19" y="160.23" width="5.8" height="130.17" fill="#0d237a"/><rect x="378.54" y="186.27" width="5.8" height="104.13" fill="#2f4f9c"/><rect x="385.89" y="259.16" width="5.8" height="31.24" fill="#808080"/><rect x="393.24" y="253.95" width="5.8" height="36.45" fill="#c3c3c3"/><rect x="411.36" y="177.59" width="5.8" height="112.81" fill="#0d237a"/><rect x="418.71" y="194.94" width="5.8" height="95.46" fill="#2f4f9c"/><rect x="426.06" y="236.60" width="5.8" height="53.80" fill="#808080"/><rect x="433.41" y="262.63" width="5.8" height="27.77" fill="#c3c3c3"/></svg></div><div class="sl" style="left:0px;top:740px;background:#fff"><svg width="475" height="360" viewBox="0 0 475 360"><rect x="25.5" y="0" width="1" height="360" fill="#f3f3f3"/><circle cx="13" cy="15" r="7.2" fill="#fff" stroke="#6a7098" stroke-width="1.2" stroke-dasharray="1.3 0.8"/><circle cx="13" cy="15" r="4.9" fill="#1c2c72"/><path d="M14.5,13.8 A1.9,1.9 0 1 0 14.5,16.2" fill="none" stroke="#fff" stroke-width="1.2"/><g transform="translate(13.5,180) rotate(-90)"><text x="0" y="0" font-size="5.6" fill="#333" text-anchor="middle" dominant-baseline="central">Business plan | <tspan font-weight="bold">商业计划书</tspan></text></g><text x="13.50" y="348.50" font-size="7" fill="#222" text-anchor="middle" font-weight="bold" dominant-baseline="central" >46</text><text x="459.00" y="349.00" font-size="5.6" fill="#777" text-anchor="end" font-weight="normal" dominant-baseline="central" >www.pptgenius.com | 内部资料 禁止外传</text><text x="57.50" y="41.50" font-size="17.6" fill="#1f1f1f" text-anchor="start" font-weight="normal" dominant-baseline="central" >饼图</text><text x="254.00" y="94.50" font-size="13" fill="#1f1f1f" text-anchor="middle" font-weight="normal" dominant-baseline="central"  textLength="147.00" lengthAdjust="spacing">柱状图数据图表分析工具</text><rect x="209.60" y="120.8" width="3.6" height="3.6" fill="#a6a6a6"/><text x="213.80" y="122.60" font-size="8" fill="#3d3d3d" text-anchor="start" font-weight="normal" dominant-baseline="central" >分类3</text><rect x="246.50" y="120.8" width="3.6" height="3.6" fill="#3b5aa0"/><text x="250.70" y="122.60" font-size="8" fill="#3d3d3d" text-anchor="start" font-weight="normal" dominant-baseline="central" >分类2</text><rect x="283.70" y="120.8" width="3.6" height="3.6" fill="#0f2475"/><text x="287.90" y="122.60" font-size="8" fill="#3d3d3d" text-anchor="start" font-weight="normal" dominant-baseline="central" >分类1</text><rect x="106.30" y="139.3" width="0.8" height="150.4" fill="#e6e6e6"/><text x="106.70" y="300.40" font-size="8.8" fill="#333333" text-anchor="middle" font-weight="normal" dominant-baseline="central" >0</text><rect x="151.70" y="139.3" width="0.8" height="150.4" fill="#e6e6e6"/><text x="152.10" y="300.40" font-size="8.8" fill="#333333" text-anchor="middle" font-weight="normal" dominant-baseline="central" >20</text><rect x="197.10" y="139.3" width="0.8" height="150.4" fill="#e6e6e6"/><text x="197.50" y="300.40" font-size="8.8" fill="#333333" text-anchor="middle" font-weight="normal" dominant-baseline="central" >40</text><rect x="242.50" y="139.3" width="0.8" height="150.4" fill="#e6e6e6"/><text x="242.90" y="300.40" font-size="8.8" fill="#333333" text-anchor="middle" font-weight="normal" dominant-baseline="central" >60</text><rect x="287.90" y="139.3" width="0.8" height="150.4" fill="#e6e6e6"/><text x="288.30" y="300.40" font-size="8.8" fill="#333333" text-anchor="middle" font-weight="normal" dominant-baseline="central" >80</text><rect x="333.30" y="139.3" width="0.8" height="150.4" fill="#e6e6e6"/><text x="333.70" y="300.40" font-size="8.8" fill="#333333" text-anchor="middle" font-weight="normal" dominant-baseline="central" >100</text><rect x="378.70" y="139.3" width="0.8" height="150.4" fill="#e6e6e6"/><text x="379.10" y="300.40" font-size="8.8" fill="#333333" text-anchor="middle" font-weight="normal" dominant-baseline="central" >120</text><rect x="424.10" y="139.3" width="0.8" height="150.4" fill="#e6e6e6"/><text x="424.50" y="300.40" font-size="8.8" fill="#333333" text-anchor="middle" font-weight="normal" dominant-baseline="central" >140</text><text x="104.30" y="154.10" font-size="9" fill="#333333" text-anchor="end" font-weight="normal" dominant-baseline="central" >数据5</text><rect x="106.70" y="143.70" width="272.40" height="5.2" fill="#a6a6a6"/><text x="383.60" y="146.30" font-size="8.2" fill="#262626" text-anchor="start" font-weight="normal" dominant-baseline="central" >120</text><rect x="106.70" y="151.50" width="231.54" height="5.2" fill="#3b5aa0"/><text x="342.74" y="154.10" font-size="8.2" fill="#262626" text-anchor="start" font-weight="normal" dominant-baseline="central" >102</text><rect x="106.70" y="159.30" width="181.60" height="5.2" fill="#0f2475"/><text x="292.80" y="161.90" font-size="8.2" fill="#262626" text-anchor="start" font-weight="normal" dominant-baseline="central" >80</text><text x="104.30" y="184.55" font-size="9" fill="#333333" text-anchor="end" font-weight="normal" dominant-baseline="central" >数据4</text><rect x="106.70" y="174.15" width="174.79" height="5.2" fill="#a6a6a6"/><text x="285.99" y="176.75" font-size="8.2" fill="#262626" text-anchor="start" font-weight="normal" dominant-baseline="central" >77</text><rect x="106.70" y="181.95" width="222.46" height="5.2" fill="#3b5aa0"/><text x="333.66" y="184.55" font-size="8.2" fill="#262626" text-anchor="start" font-weight="normal" dominant-baseline="central" >98</text><rect x="106.70" y="189.75" width="147.55" height="5.2" fill="#0f2475"/><text x="258.75" y="192.35" font-size="8.2" fill="#262626" text-anchor="start" font-weight="normal" dominant-baseline="central" >65</text><text x="104.30" y="215.00" font-size="9" fill="#333333" text-anchor="end" font-weight="normal" dominant-baseline="central" >数据3</text><rect x="106.70" y="204.60" width="181.60" height="5.2" fill="#a6a6a6"/><text x="292.80" y="207.20" font-size="8.2" fill="#262626" text-anchor="start" font-weight="normal" dominant-baseline="central" >80</text><rect x="106.70" y="212.40" width="199.76" height="5.2" fill="#3b5aa0"/><text x="310.96" y="215.00" font-size="8.2" fill="#262626" text-anchor="start" font-weight="normal" dominant-baseline="central" >88</text><rect x="106.70" y="220.20" width="154.36" height="5.2" fill="#0f2475"/><text x="265.56" y="222.80" font-size="8.2" fill="#262626" text-anchor="start" font-weight="normal" dominant-baseline="central" >68</text><text x="104.30" y="245.45" font-size="9" fill="#333333" text-anchor="end" font-weight="normal" dominant-baseline="central" >数据2</text><rect x="106.70" y="235.05" width="147.55" height="5.2" fill="#a6a6a6"/><text x="258.75" y="237.65" font-size="8.2" fill="#262626" text-anchor="start" font-weight="normal" dominant-baseline="central" >65</text><rect x="106.70" y="242.85" width="215.65" height="5.2" fill="#3b5aa0"/><text x="326.85" y="245.45" font-size="8.2" fill="#262626" text-anchor="start" font-weight="normal" dominant-baseline="central" >95</text><rect x="106.70" y="250.65" width="170.25" height="5.2" fill="#0f2475"/><text x="281.45" y="253.25" font-size="8.2" fill="#262626" text-anchor="start" font-weight="normal" dominant-baseline="central" >75</text><text x="104.30" y="275.90" font-size="9" fill="#333333" text-anchor="end" font-weight="normal" dominant-baseline="central" >数据1</text><rect x="106.70" y="265.50" width="177.06" height="5.2" fill="#a6a6a6"/><text x="288.26" y="268.10" font-size="8.2" fill="#262626" text-anchor="start" font-weight="normal" dominant-baseline="central" >78</text><rect x="106.70" y="273.30" width="195.22" height="5.2" fill="#3b5aa0"/><text x="306.42" y="275.90" font-size="8.2" fill="#262626" text-anchor="start" font-weight="normal" dominant-baseline="central" >86</text><rect x="106.70" y="281.10" width="181.60" height="5.2" fill="#0f2475"/><text x="292.80" y="283.70" font-size="8.2" fill="#262626" text-anchor="start" font-weight="normal" dominant-baseline="central" >80</text></svg></div><div class="sl" style="left:485px;top:740px;background:#fff"><svg width="475" height="360" viewBox="0 0 475 360"><rect x="25.5" y="0" width="1" height="360" fill="#f3f3f3"/><circle cx="13" cy="15" r="7.2" fill="#fff" stroke="#6a7098" stroke-width="1.2" stroke-dasharray="1.3 0.8"/><circle cx="13" cy="15" r="4.9" fill="#1c2c72"/><path d="M14.5,13.8 A1.9,1.9 0 1 0 14.5,16.2" fill="none" stroke="#fff" stroke-width="1.2"/><g transform="translate(13.5,180) rotate(-90)"><text x="0" y="0" font-size="5.6" fill="#333" text-anchor="middle" dominant-baseline="central">Business plan | <tspan font-weight="bold">商业计划书</tspan></text></g><text x="13.50" y="348.50" font-size="7" fill="#222" text-anchor="middle" font-weight="bold" dominant-baseline="central" >47</text><text x="459.00" y="349.00" font-size="5.6" fill="#777" text-anchor="end" font-weight="normal" dominant-baseline="central" >www.pptgenius.com | 内部资料 禁止外传</text><text x="57.50" y="41.50" font-size="17.6" fill="#1f1f1f" text-anchor="start" font-weight="normal" dominant-baseline="central" >折线图表</text><text x="165.65" y="112.20" font-size="13" fill="#1f1f1f" text-anchor="middle" font-weight="normal" dominant-baseline="central"  textLength="119.00" lengthAdjust="spacing">折线图数据分析工具</text><rect x="117.20" y="141.40" width="12.6" height="2.6" fill="#15236e"/><text x="131.20" y="142.70" font-size="7.4" fill="#333333" text-anchor="start" font-weight="normal" dominant-baseline="central" >系列一</text><rect x="163.00" y="141.40" width="12.6" height="2.6" fill="#dadada"/><text x="177.00" y="142.70" font-size="7.4" fill="#333333" text-anchor="start" font-weight="normal" dominant-baseline="central" >系列二</text><rect x="74.80" y="263.15" width="177.60" height="0.7" fill="#ececec"/><text x="67.90" y="263.50" font-size="6.8" fill="#262626" text-anchor="end" font-weight="normal" dominant-baseline="central" >0</text><rect x="74.80" y="241.51" width="177.60" height="0.7" fill="#ececec"/><text x="67.90" y="241.86" font-size="6.8" fill="#262626" text-anchor="end" font-weight="normal" dominant-baseline="central" >50</text><rect x="74.80" y="219.87" width="177.60" height="0.7" fill="#ececec"/><text x="67.90" y="220.22" font-size="6.8" fill="#262626" text-anchor="end" font-weight="normal" dominant-baseline="central" >100</text><rect x="74.80" y="198.23" width="177.60" height="0.7" fill="#ececec"/><text x="67.90" y="198.58" font-size="6.8" fill="#262626" text-anchor="end" font-weight="normal" dominant-baseline="central" >150</text><rect x="74.80" y="176.59" width="177.60" height="0.7" fill="#ececec"/><text x="67.90" y="176.94" font-size="6.8" fill="#262626" text-anchor="end" font-weight="normal" dominant-baseline="central" >200</text><rect x="74.80" y="154.95" width="177.60" height="0.7" fill="#ececec"/><text x="67.90" y="155.30" font-size="6.8" fill="#262626" text-anchor="end" font-weight="normal" dominant-baseline="central" >250</text><rect x="74.45" y="155.30" width="0.7" height="108.20" fill="#efefef"/><rect x="96.65" y="155.30" width="0.7" height="108.20" fill="#efefef"/><rect x="118.85" y="155.30" width="0.7" height="108.20" fill="#efefef"/><rect x="141.05" y="155.30" width="0.7" height="108.20" fill="#efefef"/><rect x="163.25" y="155.30" width="0.7" height="108.20" fill="#efefef"/><rect x="185.45" y="155.30" width="0.7" height="108.20" fill="#efefef"/><rect x="207.65" y="155.30" width="0.7" height="108.20" fill="#efefef"/><rect x="229.85" y="155.30" width="0.7" height="108.20" fill="#efefef"/><rect x="252.05" y="155.30" width="0.7" height="108.20" fill="#efefef"/><path d="M85.10,262.20 C88.81,259.17 99.94,258.23 107.36,244.02 C114.78,229.81 122.20,174.42 129.62,176.94 C137.04,179.46 144.46,250.52 151.88,259.17 C159.30,267.83 166.72,233.20 174.14,228.88 C181.56,224.55 188.98,240.78 196.40,233.20 C203.82,225.63 211.24,192.09 218.66,183.43 C226.08,174.78 237.21,181.63 240.92,181.27" fill="none" stroke="#dcdcdc" stroke-width="2.8"/><path d="M85.10,241.86 C88.81,239.70 99.94,227.43 107.36,228.88 C114.78,230.32 122.20,251.24 129.62,250.52 C137.04,249.79 144.46,225.27 151.88,224.55 C159.30,223.83 166.72,248.35 174.14,246.19 C181.56,244.02 188.98,211.92 196.40,211.56 C203.82,211.20 211.24,241.14 218.66,244.02 C226.08,246.91 237.21,231.40 240.92,228.88" fill="none" stroke="#ffffff" stroke-width="4.6"/><path d="M85.10,241.86 C88.81,239.70 99.94,227.43 107.36,228.88 C114.78,230.32 122.20,251.24 129.62,250.52 C137.04,249.79 144.46,225.27 151.88,224.55 C159.30,223.83 166.72,248.35 174.14,246.19 C181.56,244.02 188.98,211.92 196.40,211.56 C203.82,211.20 211.24,241.14 218.66,244.02 C226.08,246.91 237.21,231.40 240.92,228.88" fill="none" stroke="#15236e" stroke-width="2.5"/><text x="85.10" y="273.30" font-size="7.2" fill="#262626" text-anchor="middle" font-weight="normal" dominant-baseline="central" >数据1</text><text x="107.36" y="273.30" font-size="7.2" fill="#262626" text-anchor="middle" font-weight="normal" dominant-baseline="central" >数据2</text><text x="129.62" y="273.30" font-size="7.2" fill="#262626" text-anchor="middle" font-weight="normal" dominant-baseline="central" >数据3</text><text x="151.88" y="273.30" font-size="7.2" fill="#262626" text-anchor="middle" font-weight="normal" dominant-baseline="central" >数据4</text><text x="174.14" y="273.30" font-size="7.2" fill="#262626" text-anchor="middle" font-weight="normal" dominant-baseline="central" >数据5</text><text x="196.40" y="273.30" font-size="7.2" fill="#262626" text-anchor="middle" font-weight="normal" dominant-baseline="central" >数据6</text><text x="218.66" y="273.30" font-size="7.2" fill="#262626" text-anchor="middle" font-weight="normal" dominant-baseline="central" >数据7</text><text x="240.92" y="273.30" font-size="7.2" fill="#262626" text-anchor="middle" font-weight="normal" dominant-baseline="central" >数据8</text><text x="371.00" y="108.30" font-size="13" fill="#1f1f1f" text-anchor="middle" font-weight="normal" dominant-baseline="central"  textLength="119.00" lengthAdjust="spacing">折线图数据分析工具</text><rect x="324.90" y="138.70" width="12.6" height="2.6" fill="#15236e"/><circle cx="331.20" cy="140.00" r="3" fill="#15236e"/><text x="338.90" y="140.00" font-size="7.4" fill="#333333" text-anchor="start" font-weight="normal" dominant-baseline="central" >系列一</text><rect x="371.90" y="138.70" width="12.6" height="2.6" fill="#dadada"/><text x="385.90" y="140.00" font-size="7.4" fill="#333333" text-anchor="start" font-weight="normal" dominant-baseline="central" >系列二</text><rect x="283.60" y="263.15" width="178.80" height="0.7" fill="#ececec"/><text x="277.90" y="263.50" font-size="6.8" fill="#262626" text-anchor="end" font-weight="normal" dominant-baseline="central" >0</text><rect x="283.60" y="242.11" width="178.80" height="0.7" fill="#ececec"/><text x="277.90" y="242.46" font-size="6.8" fill="#262626" text-anchor="end" font-weight="normal" dominant-baseline="central" >50</text><rect x="283.60" y="221.07" width="178.80" height="0.7" fill="#ececec"/><text x="277.90" y="221.42" font-size="6.8" fill="#262626" text-anchor="end" font-weight="normal" dominant-baseline="central" >100</text><rect x="283.60" y="200.03" width="178.80" height="0.7" fill="#ececec"/><text x="277.90" y="200.38" font-size="6.8" fill="#262626" text-anchor="end" font-weight="normal" dominant-baseline="central" >150</text><rect x="283.60" y="178.99" width="178.80" height="0.7" fill="#ececec"/><text x="277.90" y="179.34" font-size="6.8" fill="#262626" text-anchor="end" font-weight="normal" dominant-baseline="central" >200</text><rect x="283.60" y="157.95" width="178.80" height="0.7" fill="#ececec"/><text x="277.90" y="158.30" font-size="6.8" fill="#262626" text-anchor="end" font-weight="normal" dominant-baseline="central" >250</text><rect x="283.25" y="158.30" width="0.7" height="105.20" fill="#efefef"/><rect x="305.60" y="158.30" width="0.7" height="105.20" fill="#efefef"/><rect x="327.95" y="158.30" width="0.7" height="105.20" fill="#efefef"/><rect x="350.30" y="158.30" width="0.7" height="105.20" fill="#efefef"/><rect x="372.65" y="158.30" width="0.7" height="105.20" fill="#efefef"/><rect x="395.00" y="158.30" width="0.7" height="105.20" fill="#efefef"/><rect x="417.35" y="158.30" width="0.7" height="105.20" fill="#efefef"/><rect x="439.70" y="158.30" width="0.7" height="105.20" fill="#efefef"/><rect x="462.05" y="158.30" width="0.7" height="105.20" fill="#efefef"/><path d="M295.10,263.50 C298.78,259.99 309.83,256.49 317.20,242.46 C324.57,228.43 331.93,176.53 339.30,179.34 C346.67,182.15 354.03,250.88 361.40,259.29 C368.77,267.71 376.13,234.04 383.50,229.84 C390.87,225.63 398.23,241.06 405.60,234.04 C412.97,227.03 420.33,196.17 427.70,187.76 C435.07,179.34 446.12,184.25 449.80,183.55" fill="none" stroke="#dcdcdc" stroke-width="2.8"/><circle cx="295.10" cy="263.50" r="3.3" fill="#dcdcdc"/><circle cx="317.20" cy="242.46" r="3.3" fill="#dcdcdc"/><circle cx="339.30" cy="179.34" r="3.3" fill="#dcdcdc"/><circle cx="361.40" cy="259.29" r="3.3" fill="#dcdcdc"/><circle cx="383.50" cy="229.84" r="3.3" fill="#dcdcdc"/><circle cx="405.60" cy="234.04" r="3.3" fill="#dcdcdc"/><circle cx="427.70" cy="187.76" r="3.3" fill="#dcdcdc"/><circle cx="449.80" cy="183.55" r="3.3" fill="#dcdcdc"/><path d="M295.10,242.46 C298.78,240.36 309.83,228.43 317.20,229.84 C324.57,231.24 331.93,251.58 339.30,250.88 C346.67,250.17 354.03,226.33 361.40,225.63 C368.77,224.93 376.13,247.37 383.50,246.67 C390.87,245.97 398.23,221.77 405.60,221.42 C412.97,221.07 420.33,243.16 427.70,244.56 C435.07,245.97 446.12,232.29 449.80,229.84" fill="none" stroke="#ffffff" stroke-width="4.6"/><path d="M295.10,242.46 C298.78,240.36 309.83,228.43 317.20,229.84 C324.57,231.24 331.93,251.58 339.30,250.88 C346.67,250.17 354.03,226.33 361.40,225.63 C368.77,224.93 376.13,247.37 383.50,246.67 C390.87,245.97 398.23,221.77 405.60,221.42 C412.97,221.07 420.33,243.16 427.70,244.56 C435.07,245.97 446.12,232.29 449.80,229.84" fill="none" stroke="#15236e" stroke-width="2.5"/><circle cx="295.10" cy="242.46" r="4.1" fill="#15287a"/><circle cx="317.20" cy="229.84" r="4.1" fill="#15287a"/><circle cx="339.30" cy="250.88" r="4.1" fill="#15287a"/><circle cx="361.40" cy="225.63" r="4.1" fill="#15287a"/><circle cx="383.50" cy="246.67" r="4.1" fill="#15287a"/><circle cx="405.60" cy="221.42" r="4.1" fill="#15287a"/><circle cx="427.70" cy="244.56" r="4.1" fill="#15287a"/><circle cx="449.80" cy="229.84" r="4.1" fill="#15287a"/><text x="295.10" y="273.30" font-size="7.2" fill="#262626" text-anchor="middle" font-weight="normal" dominant-baseline="central" >数据1</text><text x="317.20" y="273.30" font-size="7.2" fill="#262626" text-anchor="middle" font-weight="normal" dominant-baseline="central" >数据2</text><text x="339.30" y="273.30" font-size="7.2" fill="#262626" text-anchor="middle" font-weight="normal" dominant-baseline="central" >数据3</text><text x="361.40" y="273.30" font-size="7.2" fill="#262626" text-anchor="middle" font-weight="normal" dominant-baseline="central" >数据4</text><text x="383.50" y="273.30" font-size="7.2" fill="#262626" text-anchor="middle" font-weight="normal" dominant-baseline="central" >数据5</text><text x="405.60" y="273.30" font-size="7.2" fill="#262626" text-anchor="middle" font-weight="normal" dominant-baseline="central" >数据6</text><text x="427.70" y="273.30" font-size="7.2" fill="#262626" text-anchor="middle" font-weight="normal" dominant-baseline="central" >数据7</text><text x="449.80" y="273.30" font-size="7.2" fill="#262626" text-anchor="middle" font-weight="normal" dominant-baseline="central" >数据8</text></svg></div><div class="sl" style="left:0px;top:1110px;background:#fff"><svg width="475" height="360" viewBox="0 0 475 360"><rect x="25.5" y="0" width="1" height="360" fill="#f3f3f3"/><circle cx="13" cy="15" r="7.2" fill="#fff" stroke="#6a7098" stroke-width="1.2" stroke-dasharray="1.3 0.8"/><circle cx="13" cy="15" r="4.9" fill="#1c2c72"/><path d="M14.5,13.8 A1.9,1.9 0 1 0 14.5,16.2" fill="none" stroke="#fff" stroke-width="1.2"/><g transform="translate(13.5,180) rotate(-90)"><text x="0" y="0" font-size="5.6" fill="#333" text-anchor="middle" dominant-baseline="central">Business plan | <tspan font-weight="bold">商业计划书</tspan></text></g><text x="13.50" y="348.50" font-size="7" fill="#222" text-anchor="middle" font-weight="bold" dominant-baseline="central" >48</text><text x="459.00" y="349.00" font-size="5.6" fill="#777" text-anchor="end" font-weight="normal" dominant-baseline="central" >www.pptgenius.com | 内部资料 禁止外传</text><text x="57.50" y="41.50" font-size="17.6" fill="#1f1f1f" text-anchor="start" font-weight="normal" dominant-baseline="central" >饼图</text><text x="141.10" y="105.20" font-size="13" fill="#1f1f1f" text-anchor="middle" font-weight="normal" dominant-baseline="central"  textLength="105.00" lengthAdjust="spacing">比例数据对比图表</text><rect x="64.40" y="125.40" width="3.2" height="3.2" fill="#0d2a82"/><text x="69.40" y="127.00" font-size="8" fill="#3d3d3d" text-anchor="start" font-weight="normal" dominant-baseline="central" >分类1</text><rect x="97.00" y="125.40" width="3.2" height="3.2" fill="#1f3d8e"/><text x="102.00" y="127.00" font-size="8" fill="#3d3d3d" text-anchor="start" font-weight="normal" dominant-baseline="central" >分类2</text><rect x="129.60" y="125.40" width="3.2" height="3.2" fill="#2f4c98"/><text x="134.60" y="127.00" font-size="8" fill="#3d3d3d" text-anchor="start" font-weight="normal" dominant-baseline="central" >分类3</text><rect x="162.20" y="125.40" width="3.2" height="3.2" fill="#4d65a8"/><text x="167.20" y="127.00" font-size="8" fill="#3d3d3d" text-anchor="start" font-weight="normal" dominant-baseline="central" >分类4</text><rect x="194.80" y="125.40" width="3.2" height="3.2" fill="#7084b8"/><text x="199.80" y="127.00" font-size="8" fill="#3d3d3d" text-anchor="start" font-weight="normal" dominant-baseline="central" >分类5</text><path d="M144.70,214.50 L144.70,148.00 A66.5,66.5 0 0 1 171.19,275.49 Z" fill="#0d2a82" stroke="#fff" stroke-width="1.2" stroke-linejoin="round"/><path d="M144.70,214.50 L171.19,275.49 A66.5,66.5 0 0 1 82.04,236.77 Z" fill="#1f3d8e" stroke="#fff" stroke-width="1.2" stroke-linejoin="round"/><path d="M144.70,214.50 L82.04,236.77 A66.5,66.5 0 0 1 91.44,174.68 Z" fill="#2f4c98" stroke="#fff" stroke-width="1.2" stroke-linejoin="round"/><path d="M144.70,214.50 L91.44,174.68 A66.5,66.5 0 0 1 126.76,150.47 Z" fill="#4d65a8" stroke="#fff" stroke-width="1.2" stroke-linejoin="round"/><path d="M144.70,214.50 L126.76,150.47 A66.5,66.5 0 0 1 144.70,148.00 Z" fill="#7084b8" stroke="#fff" stroke-width="1.2" stroke-linejoin="round"/><text x="177.50" y="208.60" font-size="10" fill="#fff" text-anchor="middle" font-weight="bold" dominant-baseline="central" >50</text><text x="131.00" y="246.30" font-size="10" fill="#fff" text-anchor="middle" font-weight="bold" dominant-baseline="central" >30</text><text x="111.90" y="210.60" font-size="10" fill="#fff" text-anchor="middle" font-weight="bold" dominant-baseline="central" >18</text><text x="126.60" y="187.90" font-size="10" fill="#fff" text-anchor="middle" font-weight="bold" dominant-baseline="central" >12</text><text x="140.10" y="181.70" font-size="10" fill="#fff" text-anchor="middle" font-weight="bold" dominant-baseline="central" >5</text><rect x="252" y="100" width="0.8" height="170" fill="#f2f2f2"/><text x="355.70" y="104.70" font-size="13" fill="#1f1f1f" text-anchor="middle" font-weight="normal" dominant-baseline="central"  textLength="133.00" lengthAdjust="spacing">数据比例数据对比图表</text><rect x="279.80" y="125.40" width="3.2" height="3.2" fill="#0d2a82"/><text x="284.80" y="127.00" font-size="8" fill="#3d3d3d" text-anchor="start" font-weight="normal" dominant-baseline="central" >分类1</text><rect x="312.40" y="125.40" width="3.2" height="3.2" fill="#1f3d8e"/><text x="317.40" y="127.00" font-size="8" fill="#3d3d3d" text-anchor="start" font-weight="normal" dominant-baseline="central" >分类2</text><rect x="345.00" y="125.40" width="3.2" height="3.2" fill="#2f4c98"/><text x="350.00" y="127.00" font-size="8" fill="#3d3d3d" text-anchor="start" font-weight="normal" dominant-baseline="central" >分类3</text><rect x="377.60" y="125.40" width="3.2" height="3.2" fill="#4d65a8"/><text x="382.60" y="127.00" font-size="8" fill="#3d3d3d" text-anchor="start" font-weight="normal" dominant-baseline="central" >分类4</text><rect x="410.20" y="125.40" width="3.2" height="3.2" fill="#7084b8"/><text x="415.20" y="127.00" font-size="8" fill="#3d3d3d" text-anchor="start" font-weight="normal" dominant-baseline="central" >分类5</text><path d="M359.50,145.80 A66.6,66.6 0 0 1 386.03,273.49 L377.91,254.78 A46.2,46.2 0 0 0 359.50,166.20 Z" fill="#0d2a82" stroke="#fff" stroke-width="1.2" stroke-linejoin="miter"/><path d="M386.03,273.49 A66.6,66.6 0 0 1 296.75,234.70 L315.97,227.87 A46.2,46.2 0 0 0 377.91,254.78 Z" fill="#1f3d8e" stroke="#fff" stroke-width="1.2" stroke-linejoin="miter"/><path d="M296.75,234.70 A66.6,66.6 0 0 1 306.16,172.52 L322.50,184.74 A46.2,46.2 0 0 0 315.97,227.87 Z" fill="#2f4c98" stroke="#fff" stroke-width="1.2" stroke-linejoin="miter"/><path d="M306.16,172.52 A66.6,66.6 0 0 1 341.53,148.27 L347.04,167.91 A46.2,46.2 0 0 0 322.50,184.74 Z" fill="#4d65a8" stroke="#fff" stroke-width="1.2" stroke-linejoin="miter"/><path d="M341.53,148.27 A66.6,66.6 0 0 1 359.50,145.80 L359.50,166.20 A46.2,46.2 0 0 0 347.04,167.91 Z" fill="#7084b8" stroke="#fff" stroke-width="1.2" stroke-linejoin="miter"/><text x="414.20" y="201.00" font-size="10" fill="#fff" text-anchor="middle" font-weight="bold" dominant-baseline="central" >50</text><text x="337.70" y="264.90" font-size="10" fill="#fff" text-anchor="middle" font-weight="bold" dominant-baseline="central" >30</text><text x="303.80" y="204.70" font-size="10" fill="#fff" text-anchor="middle" font-weight="bold" dominant-baseline="central" >18</text><text x="327.80" y="166.00" font-size="10" fill="#fff" text-anchor="middle" font-weight="bold" dominant-baseline="central" >12</text><text x="351.90" y="155.90" font-size="10" fill="#fff" text-anchor="middle" font-weight="bold" dominant-baseline="central" >5</text><rect x="342.3" y="193" width="14.6" height="13.2" rx="0.8" fill="#fff" stroke="#15287a" stroke-width="1.3"/><path d="M346,206 L347.5,210 L350.5,206" fill="#fff" stroke="#15287a" stroke-width="1.2"/><rect x="345" y="196.50" width="9.4" height="1.3" fill="#15287a"/><rect x="345" y="199.50" width="9.4" height="1.3" fill="#15287a"/><rect x="345" y="202.50" width="9.4" height="1.3" fill="#15287a"/><circle cx="362.8" cy="201.5" r="6.2" fill="#fff" stroke="#15287a" stroke-width="1.3"/><path d="M356.4,200.5 Q356.5,193.8 363,194 Q369.5,194 369.2,200.5 Q366,197 362,197.5 Q359,198 356.4,200.5 Z" fill="#15287a"/><path d="M348.6,223.3 L348.6,216 Q349,211.5 355,210.2 L359,209.6 L362.8,215 L366.6,209.6 L370.6,210.2 Q376.6,211.5 377,216 L377,223.3 Z" fill="#15287a"/><path d="M361.5,210.5 L364.1,210.5 L363.8,219 L362.8,220.5 L361.8,219 Z" fill="#fff"/><rect x="367.5" y="214.5" width="4" height="1.2" fill="#fff"/></svg></div><div class="sl" style="left:485px;top:1110px;background:#fff"><svg width="475" height="360" viewBox="0 0 475 360"><rect x="25.5" y="0" width="1" height="360" fill="#f3f3f3"/><circle cx="13" cy="15" r="7.2" fill="#fff" stroke="#6a7098" stroke-width="1.2" stroke-dasharray="1.3 0.8"/><circle cx="13" cy="15" r="4.9" fill="#1c2c72"/><path d="M14.5,13.8 A1.9,1.9 0 1 0 14.5,16.2" fill="none" stroke="#fff" stroke-width="1.2"/><g transform="translate(13.5,180) rotate(-90)"><text x="0" y="0" font-size="5.6" fill="#333" text-anchor="middle" dominant-baseline="central">Business plan | <tspan font-weight="bold">商业计划书</tspan></text></g><text x="13.50" y="348.50" font-size="7" fill="#222" text-anchor="middle" font-weight="bold" dominant-baseline="central" >49</text><text x="459.00" y="349.00" font-size="5.6" fill="#777" text-anchor="end" font-weight="normal" dominant-baseline="central" >www.pptgenius.com | 内部资料 禁止外传</text><text x="57.50" y="41.50" font-size="17.6" fill="#1f1f1f" text-anchor="start" font-weight="normal" dominant-baseline="central" >饼图</text><text x="118.60" y="96.40" font-size="13" fill="#333" text-anchor="middle" font-weight="normal" dominant-baseline="central"  textLength="79.00" lengthAdjust="spacing">输入你的标题</text><rect x="107.10" y="113.5" width="3" height="3" fill="#112a80"/><text x="112.10" y="115.00" font-size="7" fill="#3d3d3d" text-anchor="start" font-weight="normal" dominant-baseline="central" >分类1</text><path d="M167.00,175.68 A47,47 0 1 1 122.30,143.20 L122.30,166.00 A24.2,24.2 0 1 0 145.32,182.72 Z" fill="#d9d9d9" stroke="#fff" stroke-width="0.9" stroke-linejoin="miter"/><path d="M122.30,143.20 A47,47 0 0 1 167.00,175.68 L145.32,182.72 A24.2,24.2 0 0 0 122.30,166.00 Z" fill="#112a84" stroke="#fff" stroke-width="0.9" stroke-linejoin="miter"/><text x="142.70" y="162.00" font-size="9.2" fill="#fff" text-anchor="middle" font-weight="bold" dominant-baseline="central" >20</text><text x="101.10" y="219.40" font-size="9.2" fill="#262626" text-anchor="middle" font-weight="bold" dominant-baseline="central" >80</text><circle cx="114.90" cy="180.00" r="2.50" fill="#112a84" stroke="#fff" stroke-width="0.5"/><path d="M110.60,192.20 L110.60,184.90 Q110.60,183.40 112.10,183.40 L117.70,183.40 Q119.20,183.40 119.20,184.90 L119.20,192.20 L117.90,192.20 L117.90,202.70 L115.20,202.70 L115.20,194.20 L114.60,194.20 L114.60,202.70 L111.90,202.70 L111.90,192.20 Z" fill="#112a84" stroke="#fff" stroke-width="0.5"/><path d="M114.20,183.60 L115.60,183.60 L115.40,188.40 L114.90,189.40 L114.40,188.40 Z" fill="#fff"/><circle cx="129.70" cy="180.00" r="2.50" fill="#112a84" stroke="#fff" stroke-width="0.5"/><path d="M125.40,192.20 L125.40,184.90 Q125.40,183.40 126.90,183.40 L132.50,183.40 Q134.00,183.40 134.00,184.90 L134.00,192.20 L132.70,192.20 L132.70,202.70 L130.00,202.70 L130.00,194.20 L129.40,194.20 L129.40,202.70 L126.70,202.70 L126.70,192.20 Z" fill="#112a84" stroke="#fff" stroke-width="0.5"/><path d="M129.00,183.60 L130.40,183.60 L130.20,188.40 L129.70,189.40 L129.20,188.40 Z" fill="#fff"/><circle cx="122.30" cy="179.18" r="2.70" fill="#112a84" stroke="#fff" stroke-width="0.5"/><path d="M117.66,192.20 L117.66,184.36 Q117.66,182.86 119.16,182.86 L125.44,182.86 Q126.94,182.86 126.94,184.36 L126.94,192.20 L125.30,192.20 L125.30,202.70 L122.60,202.70 L122.60,194.20 L122.00,194.20 L122.00,202.70 L119.30,202.70 L119.30,192.20 Z" fill="#112a84" stroke="#fff" stroke-width="0.5"/><path d="M121.60,183.06 L123.00,183.06 L122.80,187.86 L122.30,188.86 L121.80,187.86 Z" fill="#fff"/><text x="252.40" y="96.40" font-size="13" fill="#333" text-anchor="middle" font-weight="normal" dominant-baseline="central"  textLength="79.00" lengthAdjust="spacing">输入你的标题</text><rect x="240.90" y="113.5" width="3" height="3" fill="#112a80"/><text x="245.90" y="115.00" font-size="7" fill="#3d3d3d" text-anchor="start" font-weight="normal" dominant-baseline="central" >分类1</text><path d="M301.00,204.72 A47,47 0 1 1 256.30,143.20 L256.30,166.00 A24.2,24.2 0 1 0 279.32,197.68 Z" fill="#d9d9d9" stroke="#fff" stroke-width="0.9" stroke-linejoin="miter"/><path d="M256.30,143.20 A47,47 0 0 1 301.00,204.72 L279.32,197.68 A24.2,24.2 0 0 0 256.30,166.00 Z" fill="#112a84" stroke="#fff" stroke-width="0.9" stroke-linejoin="miter"/><text x="286.00" y="169.70" font-size="9.2" fill="#fff" text-anchor="middle" font-weight="bold" dominant-baseline="central" >30</text><text x="226.60" y="211.80" font-size="9.2" fill="#262626" text-anchor="middle" font-weight="bold" dominant-baseline="central" >70</text><circle cx="248.90" cy="180.00" r="2.50" fill="#112a84" stroke="#fff" stroke-width="0.5"/><path d="M244.60,192.20 L244.60,184.90 Q244.60,183.40 246.10,183.40 L251.70,183.40 Q253.20,183.40 253.20,184.90 L253.20,192.20 L251.90,192.20 L251.90,202.70 L249.20,202.70 L249.20,194.20 L248.60,194.20 L248.60,202.70 L245.90,202.70 L245.90,192.20 Z" fill="#112a84" stroke="#fff" stroke-width="0.5"/><path d="M248.20,183.60 L249.60,183.60 L249.40,188.40 L248.90,189.40 L248.40,188.40 Z" fill="#fff"/><circle cx="263.70" cy="180.00" r="2.50" fill="#112a84" stroke="#fff" stroke-width="0.5"/><path d="M259.40,192.20 L259.40,184.90 Q259.40,183.40 260.90,183.40 L266.50,183.40 Q268.00,183.40 268.00,184.90 L268.00,192.20 L266.70,192.20 L266.70,202.70 L264.00,202.70 L264.00,194.20 L263.40,194.20 L263.40,202.70 L260.70,202.70 L260.70,192.20 Z" fill="#112a84" stroke="#fff" stroke-width="0.5"/><path d="M263.00,183.60 L264.40,183.60 L264.20,188.40 L263.70,189.40 L263.20,188.40 Z" fill="#fff"/><circle cx="256.30" cy="179.18" r="2.70" fill="#112a84" stroke="#fff" stroke-width="0.5"/><path d="M251.66,192.20 L251.66,184.36 Q251.66,182.86 253.16,182.86 L259.44,182.86 Q260.94,182.86 260.94,184.36 L260.94,192.20 L259.30,192.20 L259.30,202.70 L256.60,202.70 L256.60,194.20 L256.00,194.20 L256.00,202.70 L253.30,202.70 L253.30,192.20 Z" fill="#112a84" stroke="#fff" stroke-width="0.5"/><path d="M255.60,183.06 L257.00,183.06 L256.80,187.86 L256.30,188.86 L255.80,187.86 Z" fill="#fff"/><text x="387.40" y="96.40" font-size="13" fill="#333" text-anchor="middle" font-weight="normal" dominant-baseline="central"  textLength="79.00" lengthAdjust="spacing">输入你的标题</text><rect x="375.90" y="113.5" width="3" height="3" fill="#112a80"/><text x="380.90" y="115.00" font-size="7" fill="#3d3d3d" text-anchor="start" font-weight="normal" dominant-baseline="central" >分类1</text><path d="M418.53,228.22 A47,47 0 1 1 390.90,143.20 L390.90,166.00 A24.2,24.2 0 1 0 405.12,209.78 Z" fill="#d9d9d9" stroke="#fff" stroke-width="0.9" stroke-linejoin="miter"/><path d="M390.90,143.20 A47,47 0 0 1 418.53,228.22 L405.12,209.78 A24.2,24.2 0 0 0 390.90,166.00 Z" fill="#112a84" stroke="#fff" stroke-width="0.9" stroke-linejoin="miter"/><text x="424.50" y="179.60" font-size="9.2" fill="#fff" text-anchor="middle" font-weight="bold" dominant-baseline="central" >40</text><text x="356.30" y="201.90" font-size="9.2" fill="#262626" text-anchor="middle" font-weight="bold" dominant-baseline="central" >60</text><circle cx="383.50" cy="180.00" r="2.50" fill="#112a84" stroke="#fff" stroke-width="0.5"/><path d="M379.20,192.20 L379.20,184.90 Q379.20,183.40 380.70,183.40 L386.30,183.40 Q387.80,183.40 387.80,184.90 L387.80,192.20 L386.50,192.20 L386.50,202.70 L383.80,202.70 L383.80,194.20 L383.20,194.20 L383.20,202.70 L380.50,202.70 L380.50,192.20 Z" fill="#112a84" stroke="#fff" stroke-width="0.5"/><path d="M382.80,183.60 L384.20,183.60 L384.00,188.40 L383.50,189.40 L383.00,188.40 Z" fill="#fff"/><circle cx="398.30" cy="180.00" r="2.50" fill="#112a84" stroke="#fff" stroke-width="0.5"/><path d="M394.00,192.20 L394.00,184.90 Q394.00,183.40 395.50,183.40 L401.10,183.40 Q402.60,183.40 402.60,184.90 L402.60,192.20 L401.30,192.20 L401.30,202.70 L398.60,202.70 L398.60,194.20 L398.00,194.20 L398.00,202.70 L395.30,202.70 L395.30,192.20 Z" fill="#112a84" stroke="#fff" stroke-width="0.5"/><path d="M397.60,183.60 L399.00,183.60 L398.80,188.40 L398.30,189.40 L397.80,188.40 Z" fill="#fff"/><circle cx="390.90" cy="179.18" r="2.70" fill="#112a84" stroke="#fff" stroke-width="0.5"/><path d="M386.26,192.20 L386.26,184.36 Q386.26,182.86 387.76,182.86 L394.04,182.86 Q395.54,182.86 395.54,184.36 L395.54,192.20 L393.90,192.20 L393.90,202.70 L391.20,202.70 L391.20,194.20 L390.60,194.20 L390.60,202.70 L387.90,202.70 L387.90,192.20 Z" fill="#112a84" stroke="#fff" stroke-width="0.5"/><path d="M390.20,183.06 L391.60,183.06 L391.40,187.86 L390.90,188.86 L390.40,187.86 Z" fill="#fff"/><rect x="187.1" y="122.7" width="0.8" height="112.6" fill="#e4e4e4"/><rect x="320.20000000000005" y="122.7" width="0.8" height="112.6" fill="#e4e4e4"/><text x="252.40" y="267.20" font-size="13" fill="#101f6a" text-anchor="middle" font-weight="bold" dominant-baseline="central" stroke="#101f6a" stroke-width="0.3" textLength="131.50" lengthAdjust="spacing">点击此处添加结论文字</text><text x="252.40" y="287.00" font-size="9" fill="#2e2e2e" text-anchor="middle" font-weight="normal" dominant-baseline="central" stroke="#2e2e2e" stroke-width="0.18" textLength="194.50" lengthAdjust="spacing">标题数字等都可以通过点击和重新输入进行更改</text></svg></div><div class="sl" style="left:0px;top:1480px;background:#fff"><svg width="475" height="360" viewBox="0 0 475 360"><rect x="25.5" y="0" width="1" height="360" fill="#f3f3f3"/><circle cx="13" cy="15" r="7.2" fill="#fff" stroke="#6a7098" stroke-width="1.2" stroke-dasharray="1.3 0.8"/><circle cx="13" cy="15" r="4.9" fill="#1c2c72"/><path d="M14.5,13.8 A1.9,1.9 0 1 0 14.5,16.2" fill="none" stroke="#fff" stroke-width="1.2"/><g transform="translate(13.5,180) rotate(-90)"><text x="0" y="0" font-size="5.6" fill="#333" text-anchor="middle" dominant-baseline="central">Business plan | <tspan font-weight="bold">商业计划书</tspan></text></g><text x="13.50" y="348.50" font-size="7" fill="#222" text-anchor="middle" font-weight="bold" dominant-baseline="central" >50</text><text x="459.00" y="349.00" font-size="5.6" fill="#777" text-anchor="end" font-weight="normal" dominant-baseline="central" >www.pptgenius.com | 内部资料 禁止外传</text><text x="57.50" y="41.50" font-size="17.6" fill="#1f1f1f" text-anchor="start" font-weight="normal" dominant-baseline="central" >饼图</text><path d="M150,124 L202.5,90 L202.5,214 L150,180 Z" fill="#dfe3ef"/><circle cx="110.4" cy="154.5" r="52" fill="#fff"/><path d="M149.61,180.95 A47.3,47.3 0 1 1 147.67,125.38 L132.70,137.08 A28.3,28.3 0 1 0 133.86,170.33 Z" fill="#d9d9d9" stroke="#fff" stroke-width="0" stroke-linejoin="miter"/><path d="M147.67,125.38 A47.3,47.3 0 0 1 149.61,180.95 L133.86,170.33 A28.3,28.3 0 0 0 132.70,137.08 Z" fill="#112a84" stroke="#fff" stroke-width="0" stroke-linejoin="miter"/><path d="M131.68,137.88 L149.01,124.33" stroke="#fff" stroke-width="1.2"/><path d="M132.78,169.60 L151.02,181.90" stroke="#fff" stroke-width="1.2"/><text x="72.70" y="156.40" font-size="8" fill="#262626" text-anchor="middle" font-weight="bold" dominant-baseline="central" >80%</text><text x="147.50" y="154.00" font-size="8" fill="#fff" text-anchor="middle" font-weight="bold" dominant-baseline="central" >20%</text><circle cx="110.4" cy="144.9" r="4.3" fill="#cdcdcd"/><path d="M108.3,144.8 L109.9,146.4 L112.6,143.4" fill="none" stroke="#fff" stroke-width="1"/><circle cx="101.2" cy="144.7" r="2.5" fill="#cdcdcd"/><rect x="99.1" y="149.7" width="4.5" height="9.8" rx="0.8" fill="#cdcdcd"/><rect x="104.0" y="156.1" width="3.7" height="7.9" fill="#cdcdcd"/><circle cx="119.6" cy="144.7" r="2.5" fill="#cdcdcd"/><rect x="117.2" y="149.7" width="4.5" height="9.8" rx="0.8" fill="#cdcdcd"/><rect x="113.1" y="156.1" width="3.7" height="7.9" fill="#cdcdcd"/><rect x="105.1" y="151.8" width="9.8" height="1.2" fill="#cdcdcd"/><rect x="109.8" y="152.4" width="1.2" height="11.6" fill="#cdcdcd"/><rect x="209.2" y="90.4" width="250" height="125.4" fill="#f1f1f1"/><text x="332.70" y="107.00" font-size="13" fill="#262626" text-anchor="middle" font-weight="normal" dominant-baseline="central"  textLength="145.00" lengthAdjust="spacing">柱状图数据图表分析工具</text><text x="249.20" y="130.80" font-size="8" fill="#333333" text-anchor="end" font-weight="normal" dominant-baseline="central" >数据5</text><rect x="256.2" y="126.40" width="146.64" height="8.8" fill="#112a84"/><text x="407.44" y="130.80" font-size="8" fill="#333333" text-anchor="start" font-weight="normal" dominant-baseline="central" >80</text><text x="249.20" y="146.92" font-size="8" fill="#333333" text-anchor="end" font-weight="normal" dominant-baseline="central" >数据4</text><rect x="256.2" y="142.52" width="119.14" height="8.8" fill="#112a84"/><text x="379.94" y="146.92" font-size="8" fill="#333333" text-anchor="start" font-weight="normal" dominant-baseline="central" >65</text><text x="249.20" y="163.04" font-size="8" fill="#333333" text-anchor="end" font-weight="normal" dominant-baseline="central" >数据3</text><rect x="256.2" y="158.64" width="124.64" height="8.8" fill="#112a84"/><text x="385.44" y="163.04" font-size="8" fill="#333333" text-anchor="start" font-weight="normal" dominant-baseline="central" >68</text><text x="249.20" y="179.16" font-size="8" fill="#333333" text-anchor="end" font-weight="normal" dominant-baseline="central" >数据2</text><rect x="256.2" y="174.76" width="137.47" height="8.8" fill="#112a84"/><text x="398.27" y="179.16" font-size="8" fill="#333333" text-anchor="start" font-weight="normal" dominant-baseline="central" >75</text><text x="249.20" y="195.28" font-size="8" fill="#333333" text-anchor="end" font-weight="normal" dominant-baseline="central" >数据1</text><rect x="256.2" y="190.88" width="146.64" height="8.8" fill="#112a84"/><text x="407.44" y="195.28" font-size="8" fill="#333333" text-anchor="start" font-weight="normal" dominant-baseline="central" >80</text><text x="103.6" y="258" font-size="13" dominant-baseline="central" textLength="312" lengthAdjust="spacing"><tspan fill="#101f6a" font-weight="bold" stroke="#101f6a" stroke-width="0.3">点击此处添加结论文字</tspan><tspan fill="#2e2e2e" font-size="10" stroke="#2e2e2e" stroke-width="0.15">，标题数字等都可以通过点击和重新输入进</tspan></text><text x="103.60" y="278.00" font-size="9.5" fill="#2e2e2e" text-anchor="start" font-weight="normal" dominant-baseline="central" stroke="#2e2e2e" stroke-width="0.18" textLength="297.00" lengthAdjust="spacing">行更改，顶部“开始”面板中可以对字体、字号、颜色、行距等进行修改</text></svg></div><div class="sl" style="left:485px;top:1480px;background:#fff"><svg width="475" height="360" viewBox="0 0 475 360"><defs><linearGradient id="g10bg" x1="0" y1="0" x2="1" y2="0.35"><stop offset="0" stop-color="#e8e8e8"/><stop offset="0.45" stop-color="#efefef"/><stop offset="0.75" stop-color="#fafafa"/><stop offset="1" stop-color="#ffffff"/></linearGradient><radialGradient id="g10w" cx="0.62" cy="0.62" r="0.5"><stop offset="0" stop-color="#fff" stop-opacity="1"/><stop offset="0.6" stop-color="#fff" stop-opacity="0.7"/><stop offset="1" stop-color="#fff" stop-opacity="0"/></radialGradient><linearGradient id="g10blue" x1="0" y1="0" x2="0.6" y2="1"><stop offset="0" stop-color="#3a55a2"/><stop offset="0.4" stop-color="#213d8e"/><stop offset="1" stop-color="#10297a"/></linearGradient><linearGradient id="g10gray" x1="1" y1="0" x2="0" y2="1"><stop offset="0" stop-color="#4a4a4a"/><stop offset="1" stop-color="#303030"/></linearGradient></defs><rect x="0" y="0" width="475" height="360" fill="url(#g10bg)"/><rect x="0" y="0" width="475" height="360" fill="url(#g10w)"/><defs><radialGradient id="g10c" cx="0" cy="0" r="1"><stop offset="0" stop-color="#fff" stop-opacity="0.9"/><stop offset="1" stop-color="#fff" stop-opacity="0"/></radialGradient></defs><ellipse cx="0" cy="0" rx="70" ry="60" fill="url(#g10c)"/><defs><filter id="blur10" x="-5%" y="-5%" width="110%" height="110%"><feGaussianBlur stdDeviation="0.8"/></filter></defs><g filter="url(#blur10)"><path d="M288.0,-15.0 L300,0 C336.0,62.6 399.0,54.3 480,64" fill="none" stroke="#ffffff" stroke-opacity="0.7" stroke-width="2.4"/><path d="M260.0,-15.0 L272,0 C313.6,72.4 386.4,68.8 480,80" fill="none" stroke="#ffffff" stroke-opacity="0.7" stroke-width="1.6"/><path d="M233.0,-15.0 L245,0 C292.0,81.8 374.2,84.3 480,97" fill="none" stroke="#ffffff" stroke-opacity="0.7" stroke-width="2.4"/><path d="M206.0,-15.0 L218,0 C270.4,91.2 362.1,99.9 480,114" fill="none" stroke="#ffffff" stroke-opacity="0.7" stroke-width="1.6"/><path d="M178.0,-15.0 L190,0 C248.0,100.9 349.5,115.3 480,131" fill="none" stroke="#ffffff" stroke-opacity="0.7" stroke-width="2.4"/><path d="M150.0,-15.0 L162,0 C225.6,110.7 336.9,131.8 480,149" fill="none" stroke="#ffffff" stroke-opacity="0.7" stroke-width="1.6"/><path d="M122.0,-15.0 L134,0 C203.2,120.4 324.3,149.3 480,168" fill="none" stroke="#ffffff" stroke-opacity="0.7" stroke-width="2.4"/><path d="M94.0,-15.0 L106,0 C180.8,130.2 311.7,167.8 480,188" fill="none" stroke="#ffffff" stroke-opacity="0.7" stroke-width="1.6"/><path d="M66.0,-15.0 L78,0 C158.4,139.9 299.1,187.3 480,209" fill="none" stroke="#ffffff" stroke-opacity="0.7" stroke-width="2.4"/><path d="M38.0,-15.0 L50,0 C136.0,149.6 286.5,207.8 480,231" fill="none" stroke="#ffffff" stroke-opacity="0.7" stroke-width="1.6"/><path d="M10.0,-15.0 L22,0 C113.6,159.4 273.9,229.3 480,254" fill="none" stroke="#ffffff" stroke-opacity="0.7" stroke-width="2.4"/><path d="M-12.0,10.0 L0,25 C96.0,192.0 264.0,252.1 480,278" fill="none" stroke="#ffffff" stroke-opacity="0.7" stroke-width="1.6"/><path d="M-12.0,55.0 L0,70 C96.0,237.0 264.0,279.1 480,305" fill="none" stroke="#ffffff" stroke-opacity="0.7" stroke-width="2.4"/><path d="M-12.0,100.0 L0,115 C96.0,282.0 264.0,309.1 480,335" fill="none" stroke="#ffffff" stroke-opacity="0.7" stroke-width="1.6"/></g><path d="M0,225 Q150,250 300,318 Q380,350 475,300 L475,360 L0,360 Z" fill="#ffffff" fill-opacity="0.55"/><path d="M0,243.75 C80,276 170,318 240,338 C270,346 295,347 314,346 L314,360 L0,360 Z" fill="url(#g10blue)"/><path d="M480,272.5 C425,300 345,334 252,362" fill="none" stroke="#ffffff" stroke-width="6"/><path d="M476,276 C421,303.5 341,337.5 261,361 L476,361 Z" fill="#3c3c3c"/><rect x="75.9" y="116.3" width="58.7" height="57.5" fill="#0b2a84"/><text x="105.25" y="145.40" font-size="47" fill="#fff" text-anchor="middle" font-weight="bold" dominant-baseline="central"  textLength="50.00" lengthAdjust="spacing">05</text><text x="151.80" y="137.80" font-size="31" fill="#0b2a84" text-anchor="start" font-weight="bold" dominant-baseline="central" stroke="#0b2a84" stroke-width="1.1" textLength="125.00" lengthAdjust="spacing">行业分析</text><rect x="151" y="163" width="239" height="1.2" fill="#333"/><text x="152.50" y="184.00" font-size="12" fill="#222" text-anchor="start" font-weight="normal" dominant-baseline="central" stroke="#222" stroke-width="0.15" textLength="238.00" lengthAdjust="spacing">主要介绍企业所归属的产业领域的基本情况，</text><text x="152.50" y="201.35" font-size="12" fill="#222" text-anchor="start" font-weight="normal" dominant-baseline="central" stroke="#222" stroke-width="0.15" textLength="237.00" lengthAdjust="spacing">以及企业在整个产业或行业中的地位。和同类</text><text x="152.50" y="218.70" font-size="12" fill="#222" text-anchor="start" font-weight="normal" dominant-baseline="central" stroke="#222" stroke-width="0.15" textLength="237.00" lengthAdjust="spacing">型企业进行对比分析，做分析，表现企业的核</text><text x="152.50" y="236.05" font-size="12" fill="#222" text-anchor="start" font-weight="normal" dominant-baseline="central" stroke="#222" stroke-width="0.15" textLength="65.50" lengthAdjust="spacing">心竞争优势。</text><circle cx="440.5" cy="37" r="18.2" fill="#fff" stroke="#1f2a6e" stroke-width="1.1"/><path d="M425.5,38 A15,15 0 0 1 455.5,38" fill="none" stroke="#6b3d66" stroke-width="1.8" stroke-dasharray="1.4 1.4"/><path d="M425.5,40 A15,15 0 0 0 455.5,40" fill="none" stroke="#a9b0c0" stroke-width="1.8" stroke-dasharray="1.4 1.0"/><rect x="439.0" y="23.8" width="3" height="3.5" fill="#1a2a78" transform="rotate(0.0 440.5 37)"/><rect x="439.0" y="23.8" width="3" height="3.5" fill="#1a2a78" transform="rotate(22.5 440.5 37)"/><rect x="439.0" y="23.8" width="3" height="3.5" fill="#1a2a78" transform="rotate(45.0 440.5 37)"/><rect x="439.0" y="23.8" width="3" height="3.5" fill="#1a2a78" transform="rotate(67.5 440.5 37)"/><rect x="439.0" y="23.8" width="3" height="3.5" fill="#1a2a78" transform="rotate(90.0 440.5 37)"/><rect x="439.0" y="23.8" width="3" height="3.5" fill="#1a2a78" transform="rotate(112.5 440.5 37)"/><rect x="439.0" y="23.8" width="3" height="3.5" fill="#1a2a78" transform="rotate(135.0 440.5 37)"/><rect x="439.0" y="23.8" width="3" height="3.5" fill="#1a2a78" transform="rotate(157.5 440.5 37)"/><rect x="439.0" y="23.8" width="3" height="3.5" fill="#1a2a78" transform="rotate(180.0 440.5 37)"/><rect x="439.0" y="23.8" width="3" height="3.5" fill="#1a2a78" transform="rotate(202.5 440.5 37)"/><rect x="439.0" y="23.8" width="3" height="3.5" fill="#1a2a78" transform="rotate(225.0 440.5 37)"/><rect x="439.0" y="23.8" width="3" height="3.5" fill="#1a2a78" transform="rotate(247.5 440.5 37)"/><rect x="439.0" y="23.8" width="3" height="3.5" fill="#1a2a78" transform="rotate(270.0 440.5 37)"/><rect x="439.0" y="23.8" width="3" height="3.5" fill="#1a2a78" transform="rotate(292.5 440.5 37)"/><rect x="439.0" y="23.8" width="3" height="3.5" fill="#1a2a78" transform="rotate(315.0 440.5 37)"/><rect x="439.0" y="23.8" width="3" height="3.5" fill="#1a2a78" transform="rotate(337.5 440.5 37)"/><circle cx="440.5" cy="37" r="11.2" fill="#1a2a78"/><circle cx="440.5" cy="37" r="9.4" fill="#3346a6" stroke="#dfe4ff" stroke-width="0.7"/><circle cx="440.5" cy="37" r="5.4" fill="#fff"/><rect x="439.7" y="36.3" width="6.4" height="1.7" fill="#1a2a78"/><text x="12.50" y="348.50" font-size="7" fill="#fff" text-anchor="middle" font-weight="bold" dominant-baseline="central" >51</text><text x="27.5" y="348.5" font-size="6.4" fill="#fff" dominant-baseline="central">Business plan | <tspan font-weight="bold">商业计划书</tspan></text><text x="460.00" y="348.50" font-size="5.6" fill="#8a8a8a" text-anchor="end" font-weight="normal" dominant-baseline="central" >www.pptgenius.com | 内部资料 禁止外传</text></svg></div>
</body></html>
